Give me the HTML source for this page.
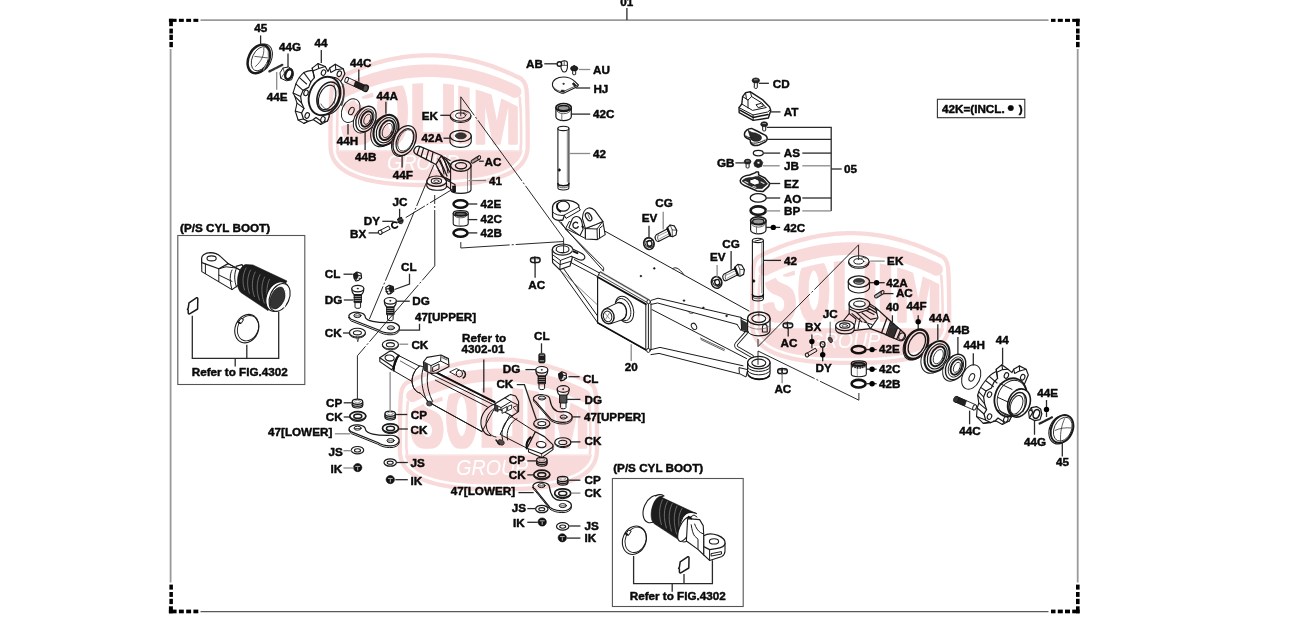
<!DOCTYPE html>
<html lang="en"><head><meta charset="utf-8"><title>Front axle parts diagram</title>
<style>html,body{margin:0;padding:0;background:#fff;}body{width:1297px;height:621px;overflow:hidden;}svg{display:block;}.lb{font-family:"Liberation Sans",Arial,sans-serif;font-weight:bold;font-size:11.7px;fill:#0a0a0a;stroke:#0a0a0a;stroke-width:0.45px;stroke-linejoin:round;}.p{fill:none;stroke:#1a1a1a;stroke-width:1;stroke-linecap:round;stroke-linejoin:round;}.w{fill:#fff;stroke:#1a1a1a;stroke-width:1;stroke-linecap:round;stroke-linejoin:round;}.k{fill:#111;stroke:#111;stroke-width:0.6;stroke-linejoin:round;}.t{fill:none;stroke:#1a1a1a;stroke-width:0.7;stroke-linecap:round;stroke-linejoin:round;}.h{fill:none;stroke:#111;stroke-width:1.8;stroke-linecap:round;stroke-linejoin:round;}</style></head><body>
<svg width="1297" height="621" viewBox="0 0 1297 621">
<rect width="1297" height="621" fill="#fff"/>
<g stroke="#9a9a9a" stroke-width="1.8" fill="none">
<path d="M200.5,20.2H1048.5 M170.6,49V582.5 M1077.7,49V582.5"/>
</g>
<path d="M200.5,611.6H1048.5" stroke="#5a5a5a" stroke-width="1.2" fill="none"/>
<g fill="#000">
<rect x="168.9" y="18.8" width="7.7" height="3.1"/>
<rect x="169.2" y="18.8" width="3.7" height="7.4"/>
<rect x="178.9" y="18.8" width="4.9" height="3.1"/>
<rect x="186.2" y="18.8" width="4.9" height="3.1"/>
<rect x="193.4" y="18.8" width="4.9" height="3.1"/>
<rect x="169.4" y="28.6" width="3.5" height="4.9"/>
<rect x="169.4" y="34.7" width="3.5" height="5.3"/>
<rect x="169.4" y="41.9" width="3.5" height="5.3"/>
<rect x="1072.2" y="18.8" width="7.4" height="3.1"/>
<rect x="1076.0" y="18.8" width="3.6" height="7.4"/>
<rect x="1051.0" y="18.8" width="4.5" height="3.1"/>
<rect x="1057.8" y="18.8" width="5.0" height="3.1"/>
<rect x="1065.0" y="18.8" width="5.0" height="3.1"/>
<rect x="1076.0" y="28.6" width="3.6" height="4.9"/>
<rect x="1076.0" y="34.7" width="3.6" height="5.3"/>
<rect x="1076.0" y="41.9" width="3.6" height="5.3"/>
<rect x="168.9" y="609.6" width="7.7" height="3.7"/>
<rect x="168.9" y="606.3" width="4.0" height="7.0"/>
<rect x="178.9" y="609.6" width="4.9" height="3.7"/>
<rect x="186.2" y="609.6" width="4.9" height="3.7"/>
<rect x="193.4" y="609.6" width="4.9" height="3.7"/>
<rect x="169.4" y="584.6" width="3.5" height="5.0"/>
<rect x="169.4" y="592.0" width="3.5" height="4.9"/>
<rect x="169.4" y="598.8" width="3.5" height="5.3"/>
<rect x="1072.2" y="609.6" width="7.4" height="3.7"/>
<rect x="1076.0" y="606.3" width="3.6" height="7.0"/>
<rect x="1051.0" y="609.6" width="4.5" height="3.7"/>
<rect x="1057.8" y="609.6" width="5.0" height="3.7"/>
<rect x="1065.0" y="609.6" width="5.0" height="3.7"/>
<rect x="1076.0" y="584.6" width="3.6" height="5.0"/>
<rect x="1076.0" y="592.0" width="3.6" height="4.9"/>
<rect x="1076.0" y="598.8" width="3.6" height="5.3"/>
</g>
<g stroke="#555" stroke-width="1.1" fill="none">
<rect x="177.8" y="235.5" width="127" height="149"/>
<rect x="612.4" y="478.5" width="130.8" height="128"/>
<rect x="937.4" y="99.3" width="87.4" height="18.4" stroke="#333"/>
</g>
<!-- p_tileA_tileA.svg -->
<g>
<ellipse cx="261.2" cy="58.2" rx="10.2" ry="15" transform="rotate(25 261.2 58.2)" class="w" style="stroke-width:1;"/>
<ellipse cx="258.8" cy="59" rx="10.2" ry="15" transform="rotate(25 258.8 59)" class="w" style="stroke-width:2.5;"/>
<ellipse cx="260.2" cy="58.8" rx="7.9" ry="12.8" transform="rotate(25 260.2 58.8)" class="p" style="stroke-width:0.8;"/>
<path d="M254.8,56.4 L267.6,57.9 M263.8,48.2 C264.5,55 261,62 255.5,66.4" class="t"/>
<path d="M268.2,51.5 L268.6,59 M267,63 L263.5,70" class="t" style="stroke-width:1.2;stroke:#888;"/>
<path d="M269.4,71.4 L282.6,64.7" class="p" style="stroke-width:2.3;stroke:#333;" stroke-dasharray="1.2 0.7"/>
<path d="M280.2,72.5 L283,68 L288.5,67 L292.3,69.5 L293.5,74.5 L291.6,79.8 L286.4,80.8 L281,78.4 Z" class="w" style="stroke-width:1;"/>
<path d="M283,68 L284.5,73 L281,78.4 M284.5,73 L286.5,72" class="t"/>
<ellipse cx="288.8" cy="74.3" rx="3.3" ry="5.2" transform="rotate(20 288.8 74.3)" class="w" style="stroke-width:2.5;"/>
<g><path d="M312.2,70.4 C308.6,70.6 306,71.4 303.8,72.6 C300,75.6 297.6,79.6 295.9,83.9 L293.1,92.9 L294.8,96.3 L297,103.1 L295.3,111 L298.1,120 L303.8,123.4 L312.2,118.8 L313.9,120 L320.7,124.5 L327.4,121.1 L329.1,116.6 L326,80 Z" class="w" style="stroke-width:1.1;"/>
<path d="M312.2,68.1 L317.9,63.6 L325.2,66.5 L328,71.5 L329.7,68.1 L335.3,64.2 L343.2,68.7 L344.9,73.8 L342.1,79.4 L330,96 L329.1,116.6 L327.4,121.1 L321.6,121.6 L316,117.4 L312.6,120 L308,121.4 L303.4,119 L301.6,113 L304,108.4 L301.6,103 L300.6,96.4 L303,90.4 L308.6,87.4 L311,81.6 L314.4,77.6 Z" class="w" style="stroke-width:1.2;"/>
<path d="M312.2,68.1 L314.4,77.6 M317.9,63.6 L318.8,68.6 L313.4,70.8 M318.8,68.6 L325.2,66.5 M329.7,68.1 L330.8,72.4 L335.8,69.8 L335.3,64.2 M335.8,69.8 L343.2,68.7 M303.8,72.6 L310.8,82 M299.4,77.6 L306.6,84 M295.9,83.9 L303,90.4 M293.1,92.9 L300.6,96.4 M294.8,96.3 L301.6,103 M297,103.1 L304,108.4 M295.3,111 L301.6,113 M298.1,120 L303.4,119 M303.8,123.4 L308,121.4 M320.7,124.5 L321.6,121.6" class="p" style="stroke-width:1.1;"/>
<ellipse cx="323.5" cy="72.6" rx="2.1" ry="2.9" transform="rotate(22 323.5 72.6)" class="w" style="stroke-width:1.1;"/>
<ellipse cx="339.3" cy="73.8" rx="2.1" ry="2.9" transform="rotate(22 339.3 73.8)" class="w" style="stroke-width:1.1;"/>
<ellipse cx="306" cy="92.9" rx="2.1" ry="2.9" transform="rotate(22 306 92.9)" class="w" style="stroke-width:1.1;"/>
<ellipse cx="307.2" cy="115.5" rx="2.1" ry="2.9" transform="rotate(22 307.2 115.5)" class="w" style="stroke-width:1.1;"/>
<ellipse cx="322.9" cy="119.4" rx="2.1" ry="2.9" transform="rotate(22 322.9 119.4)" class="w" style="stroke-width:1.1;"/>
<ellipse cx="328.4" cy="96" rx="14.6" ry="19.6" transform="rotate(22 328.4 96)" class="w" style="stroke-width:1;"/>
<path d="M342.6,84 C344.6,90 344.2,98 341.6,105" class="p" style="stroke-width:1.7;stroke:#444;"/>
<ellipse cx="324.6" cy="96" rx="15.2" ry="19.8" transform="rotate(22 324.6 96)" class="w" style="stroke-width:1.9;"/>
<ellipse cx="328.2" cy="96.6" rx="10.6" ry="15.2" transform="rotate(22 328.2 96.6)" class="w" style="stroke-width:1.5;"/>
<ellipse cx="327.2" cy="97.4" rx="8" ry="12.8" transform="rotate(22 327.2 97.4)" class="w" style="stroke-width:1.1;"/>
<path d="M321,104 C323,108 327,110.6 331,109.4 M334,85 C336,90 336,98 334,104" class="t"/></g>
<path d="M347.3,77.3 L365.8,85.7 L364.2,90.9 L345.8,82.5 Z" class="w" style="stroke-width:0.9;"/>
<path d="M355.5,81.1 L365.8,85.7 L364.2,90.9 L353.8,86.2 Z" class="k" style="fill:#222;"/>
<ellipse cx="346.6" cy="79.9" rx="1.6" ry="2.7" transform="rotate(22 346.6 79.9)" class="w" style="stroke-width:0.9;"/>
<ellipse cx="365.6" cy="88.2" rx="2.6" ry="3.3" transform="rotate(22 365.6 88.2)" class="w" style="stroke-width:1.3;fill:#555;"/>
</g>
<!-- p_tileB_tileB.svg -->
<g>
<ellipse cx="350.7" cy="110.6" rx="8.6" ry="12.4" transform="rotate(25 350.7 110.6)" class="w" style="stroke-width:1;"/>
<ellipse cx="351.4" cy="111" rx="2.4" ry="4" transform="rotate(25 351.4 111)" class="w" style="stroke-width:1;"/>
<ellipse cx="363.4" cy="120.2" rx="9.4" ry="13.4" transform="rotate(25 363.4 120.2)" class="w" style="stroke-width:1;"/>
<ellipse cx="366" cy="119" rx="9.4" ry="13.4" transform="rotate(25 366 119)" class="w" style="stroke-width:1.4;"/>
<ellipse cx="366.3" cy="119" rx="7" ry="10.6" transform="rotate(25 366.3 119)" class="p" style="stroke-width:0.9;"/>
<ellipse cx="366.8" cy="119" rx="5.2" ry="8.2" transform="rotate(25 366.8 119)" class="w" style="stroke-width:1.8;"/>
<ellipse cx="367.3" cy="119.3" rx="3" ry="5.4" transform="rotate(25 367.3 119.3)" class="p" style="stroke-width:0.8;"/>
<ellipse cx="383.2" cy="131.5" rx="11.6" ry="16" transform="rotate(25 383.2 131.5)" class="w" style="stroke-width:1;"/>
<ellipse cx="386" cy="130.2" rx="11.6" ry="16" transform="rotate(25 386 130.2)" class="w" style="stroke-width:2.1;"/>
<ellipse cx="386.3" cy="130.2" rx="9.2" ry="13.2" transform="rotate(25 386.3 130.2)" class="p" style="stroke-width:1.2;"/>
<ellipse cx="386.8" cy="130.2" rx="6.6" ry="10.4" transform="rotate(25 386.8 130.2)" class="w" style="stroke-width:1.9;"/>
<ellipse cx="387.3" cy="130.5" rx="4.4" ry="7.6" transform="rotate(25 387.3 130.5)" class="p" style="stroke-width:0.8;"/>
<ellipse cx="403.2" cy="141.4" rx="10.6" ry="15.8" transform="rotate(25 403.2 141.4)" class="w" style="stroke-width:1;"/>
<ellipse cx="404.6" cy="140.6" rx="10.6" ry="15.8" transform="rotate(25 404.6 140.6)" class="w" style="stroke-width:1.3;"/>
<ellipse cx="405" cy="140.6" rx="8" ry="12.6" transform="rotate(25 405 140.6)" class="w" style="stroke-width:1.2;"/>
<ellipse cx="405.6" cy="140.4" rx="7" ry="11.4" transform="rotate(25 405.6 140.4)" class="p" style="stroke-width:0.7;"/>
<path d="M414.6,148.6 C413.4,150.4 414,152.8 416,154.2 L436,164.5 L441.5,155.5 L420.4,146.6 C418,145.8 415.6,146.6 414.6,148.6 Z" class="w" style="stroke-width:1.3;"/>
<path d="M419.5,147 L417,154.6 M423.5,148.4 L421,157 M428.5,150.6 L426,159.6 M433,152.4 L431,162" class="p" style="stroke-width:1.2;"/>
<path d="M436,164.5 C438,168 440,172 441.5,176 L452,181 L452,166 L441.5,155.5 Z" class="w" style="stroke-width:1.1;"/>
<path d="M438,159 C441,163 443,168 444,174 M441.5,156.5 C445,160 447,166 448,173 M444,157 L450,160.5 M437,167 L443,178" class="p" style="stroke-width:1.1;"/>
<path d="M450.6,165.6 L450.6,190 C452,194.5 469.5,194.5 471,190 L471,165.6" class="w" style="stroke-width:1.1;"/>
<path d="M467.5,171 L467.5,192" class="t" style="stroke:#666;"/>
<ellipse cx="460.8" cy="165.6" rx="10.2" ry="5.6" class="w" style="stroke-width:1.4;"/>
<ellipse cx="461" cy="165.8" rx="5.6" ry="3.1" class="w" style="stroke-width:1.3;"/>
<path d="M456,166.6 a5.4,3 0 0 0 9,1.6" class="t"/>
<path d="M426.8,181.5 L426.8,186 C428,191 444,192 446.5,187 L446.5,182" class="w" style="stroke-width:1.1;"/>
<ellipse cx="436.6" cy="181.2" rx="9.9" ry="5.2" class="w" style="stroke-width:1.2;"/>
<ellipse cx="436.4" cy="181" rx="5.2" ry="2.7" class="w" style="stroke-width:1.1;"/>
<ellipse cx="436.4" cy="181.2" rx="2.6" ry="1.3" class="p" style="stroke-width:0.8;"/>
<path d="M446,180 L455,184.5 L455,191.5 M446.5,186 L452,190 M450.6,181 L446,178" class="p" style="stroke-width:1.1;"/>
<path d="M452.5,186 L455.5,186 L455.5,192 L452.5,192 Z" class="k"/>
<path d="M440,160 L447,176 M443.4,158.6 L449.6,172 M446.6,160 L450.4,168 M438.4,170 L446,180" class="p" style="stroke-width:1.3;"/>
<g><path d="M450.3,115.6 v1.3 a10.3,5.6 0 0 0 20.6,0 v-1.3" class="w" style="stroke-width:1.1;"/>
<ellipse cx="460.6" cy="115.6" rx="10.3" ry="5.6" class="w" style="stroke-width:1.1;"/>
<ellipse cx="460.6" cy="115.6" rx="5" ry="2.7" class="w" style="stroke-width:1;fill:#fff;"/></g>
<path d="M463,112.5 l3,-1 l1.5,1.6 M464.5,113.5 l2,1" class="t"/>
<path d="M450,136 v5.6 a10.6,5.8 0 0 0 21.2,0 v-5.6" class="w" style="stroke-width:1.1;"/>
<ellipse cx="460.6" cy="136" rx="10.6" ry="5.7" class="w" style="stroke-width:1.3;"/>
<ellipse cx="460.8" cy="135.8" rx="5.6" ry="3" class="k" style="fill:#3a3a3a;"/>
<path d="M472.8,161.5 L478.6,157.9" class="p" style="stroke-width:4.4;stroke:#2a2a2a;"/>
<path d="M472.6,161.6 L478.8,157.8" class="p" style="stroke-width:2;stroke:#bbb;" stroke-dasharray="0.8 1.3" stroke-linecap="butt"/>
<ellipse cx="479.2" cy="157.6" rx="1.3" ry="1.9" transform="rotate(30 479.2 157.6)" class="w" style="stroke-width:0.9;"/>
<ellipse cx="400.4" cy="220.6" rx="2.6" ry="3.3" transform="rotate(-20 400.4 220.6)" class="k" style="fill:#444;"/>
<path d="M397.6,219.5 l4,-2 M398,222.5 l5,-2.4" class="p" style="stroke-width:1.2;"/>
<path d="M396.6,222.6 a3,3 0 1 0 0.8,4" class="p" style="stroke-width:1.8;stroke:#111;"/>
<path d="M379.6,230.6 L388.6,226 L390.2,229.2 L381.2,233.8 Z" class="w" style="stroke-width:1;"/>
<ellipse cx="380.2" cy="232.3" rx="1.8" ry="2.1" transform="rotate(-25 380.2 232.3)" class="w" style="stroke-width:1;"/>
<ellipse cx="460.5" cy="204" rx="7" ry="3.7" class="p" style="stroke-width:2.5;stroke:#111;"/>
<g><path d="M453.2,213.4 v10 a7.5,2.7 0 0 0 15,0 v-10" class="w" style="stroke-width:1.1;"/>
<ellipse cx="460.7" cy="213.4" rx="7.5" ry="2.7" class="w" style="stroke-width:1.2;"/>
<ellipse cx="460.7" cy="214" rx="5.7" ry="1.6" class="p" style="stroke-width:1.6;fill:#777;"/>
<path d="M454.7,215.6 a6,2.2 0 0 0 12,0" class="t"/>
<path d="M459.2,217.1L459.2,225.1" class="t" style="stroke:#777;"/></g>
<ellipse cx="460.5" cy="233" rx="7" ry="3.8" class="p" style="stroke-width:2.6;stroke:#111;"/>
</g>
<!-- p_tileC_tileC.svg -->
<g>
<path d="M353.6,274.2 L356.9,272 L361,273.4 L361.6,277.9 L358.6,280.4 L355.9,281 L354.2,278.4 Z" class="w" style="stroke-width:1.2;"/>
<path d="M353.8,274.2 L357,272.2 L358.4,275.9 L356.4,279.8 L354.2,278 Z" class="k" style="fill:#1c1c1c;"/>
<path d="M358.6,275.4 L361.2,276 M359,278.2 L361,278.4" class="p" style="stroke-width:1;"/>
<path d="M355,302.1 v5 a2.8,1.3 0 0 0 5.6,0 v-5 Z" class="w" style="stroke-width:1;"/>
<path d="M354.2,293.6 L354.2,302.6 L361.4,302.6 L361.4,293.6 Z" class="w" style="stroke-width:1;"/>
<path d="M354.4,295.6 h6.8 M354.4,297.6 h6.8 M354.4,299.6 h6.8 M354.4,301.6 h6.8" class="p" style="stroke-width:1.5;stroke:#1a1a1a;"/>
<path d="M351.8,288.6 C351.8,291.6 353.3,294 354.2,294.6 L361.4,294.6 C362.3,294 363.8,291.6 363.8,288.6 Z" class="w" style="stroke-width:1.1;"/>
<ellipse cx="357.8" cy="288.6" rx="6" ry="3.3" class="w" style="stroke-width:1.2;"/>
<ellipse cx="357.8" cy="288.6" rx="0.7" ry="0.5" class="k"/>
<g transform="translate(0,1.7)"><path d="M348.8,315.6 A8.6,5.3 0 0 1 365.4,317.46 C366.6,320.68 375.91,322.86 388.75,322.66 A8.6,5.3 0 0 1 399.5,327.8 A8.6,5.3 0 0 1 390.04,333.1 C385.04,333.1 381.04,331.6 378.04,329.7 L351.21,319.31 A8.6,5.3 0 0 1 348.8,315.6 Z" class="w" style="stroke-width:1;"/></g>
<path d="M348.8,315.6 A8.6,5.3 0 0 1 365.4,317.46 C366.6,320.68 375.91,322.86 388.75,322.66 A8.6,5.3 0 0 1 399.5,327.8 A8.6,5.3 0 0 1 390.04,333.1 C385.04,333.1 381.04,331.6 378.04,329.7 L351.21,319.31 A8.6,5.3 0 0 1 348.8,315.6 Z" class="w" style="stroke-width:1.2;"/>
<ellipse cx="357.4" cy="315.6" rx="3.6" ry="2" class="w" style="stroke-width:1;"/>
<path d="M354.4,315.9 h6" class="t"/>
<ellipse cx="390.9" cy="327.8" rx="3.6" ry="2" class="w" style="stroke-width:1;"/>
<path d="M387.9,328.1 h6" class="t"/>
<path d="M349.4,332.6 v1 a8,4.4 0 0 0 16,0 v-1" class="w" style="stroke-width:1;"/>
<ellipse cx="357.4" cy="332.6" rx="8" ry="4.4" class="w" style="stroke-width:1.1;"/>
<ellipse cx="357.4" cy="332.8" rx="4" ry="2.1" class="w" style="stroke-width:1.1;"/>
<path d="M356.6,337 l1.2,4.8 l1.2,-4.8" class="t"/>
<path d="M385.8,287.4 L389.1,285.2 L393.2,286.6 L393.8,291.1 L390.8,293.6 L388.1,294.2 L386.4,291.6 Z" class="w" style="stroke-width:1.2;"/>
<path d="M393.2,287.4 L390,285.4 L388.6,289.1 L390.6,293 L392.8,291.2 Z" class="k" style="fill:#1c1c1c;"/>
<path d="M388.4,288.6 L385.8,289.2 M388,291.4 L386,291.6" class="p" style="stroke-width:1;"/>
<path d="M387.5,314.3 v5 a2.8,1.3 0 0 0 5.6,0 v-5 Z" class="w" style="stroke-width:1;"/>
<path d="M386.7,305.8 L386.7,314.8 L393.9,314.8 L393.9,305.8 Z" class="w" style="stroke-width:1;"/>
<path d="M386.9,307.8 h6.8 M386.9,309.8 h6.8 M386.9,311.8 h6.8 M386.9,313.8 h6.8" class="p" style="stroke-width:1.5;stroke:#1a1a1a;"/>
<path d="M384.3,300.8 C384.3,303.8 385.8,306.2 386.7,306.8 L393.9,306.8 C394.8,306.2 396.3,303.8 396.3,300.8 Z" class="w" style="stroke-width:1.1;"/>
<ellipse cx="390.3" cy="300.8" rx="6" ry="3.3" class="w" style="stroke-width:1.2;"/>
<ellipse cx="390.3" cy="300.8" rx="0.7" ry="0.5" class="k"/>
<path d="M382.4,344.5 v1 a8,4.4 0 0 0 16,0 v-1" class="w" style="stroke-width:1;"/>
<ellipse cx="390.4" cy="344.5" rx="8" ry="4.4" class="w" style="stroke-width:1.1;"/>
<ellipse cx="390.4" cy="344.7" rx="4" ry="2.1" class="w" style="stroke-width:1.1;"/>
<path d="M352.3,402 v3.6 a5.2,2.4 0 0 0 10.4,0 v-3.6" class="w" style="stroke-width:1.2;"/>
<path d="M352.3,404 a5.2,2.3 0 0 0 10.4,0" class="p" style="stroke-width:1.5;stroke:#222;"/>
<ellipse cx="357.5" cy="401.8" rx="5.2" ry="2.6" class="w" style="stroke-width:1.3;"/>
<ellipse cx="357.5" cy="401.6" rx="3" ry="1.3" class="p" style="stroke-width:0.7;stroke:#777;"/>
<path d="M349.8,416 v1 a8,4.4 0 0 0 16,0 v-1" class="w" style="stroke-width:1;"/>
<ellipse cx="357.8" cy="416" rx="8" ry="4.4" class="w" style="stroke-width:1.7;"/>
<ellipse cx="357.8" cy="416.2" rx="4" ry="2.1" class="w" style="stroke-width:1.6;"/>
<path d="M385,414 v3.6 a5.2,2.4 0 0 0 10.4,0 v-3.6" class="w" style="stroke-width:1.2;"/>
<path d="M385,416 a5.2,2.3 0 0 0 10.4,0" class="p" style="stroke-width:1.5;stroke:#222;"/>
<ellipse cx="390.2" cy="413.8" rx="5.2" ry="2.6" class="w" style="stroke-width:1.3;"/>
<ellipse cx="390.2" cy="413.6" rx="3" ry="1.3" class="p" style="stroke-width:0.7;stroke:#777;"/>
<path d="M382.5,428.2 v1 a8,4.4 0 0 0 16,0 v-1" class="w" style="stroke-width:1;"/>
<ellipse cx="390.5" cy="428.2" rx="8" ry="4.4" class="w" style="stroke-width:1.7;"/>
<ellipse cx="390.5" cy="428.4" rx="4" ry="2.1" class="w" style="stroke-width:1.6;"/>
<g transform="translate(0,1.7)"><path d="M349,428.2 A8.6,5.3 0 0 1 365.6,430.06 C366.8,433.41 375.88,435.66 388.45,435.46 A8.6,5.3 0 0 1 399.2,440.6 A8.6,5.3 0 0 1 389.74,445.9 C384.74,445.9 380.74,444.4 377.74,442.5 L351.41,431.91 A8.6,5.3 0 0 1 349,428.2 Z" class="w" style="stroke-width:1;"/></g>
<path d="M349,428.2 A8.6,5.3 0 0 1 365.6,430.06 C366.8,433.41 375.88,435.66 388.45,435.46 A8.6,5.3 0 0 1 399.2,440.6 A8.6,5.3 0 0 1 389.74,445.9 C384.74,445.9 380.74,444.4 377.74,442.5 L351.41,431.91 A8.6,5.3 0 0 1 349,428.2 Z" class="w" style="stroke-width:1.2;"/>
<ellipse cx="357.6" cy="428.2" rx="3.6" ry="2" class="w" style="stroke-width:1;"/>
<path d="M354.6,428.5 h6" class="t"/>
<ellipse cx="390.6" cy="440.6" rx="3.6" ry="2" class="w" style="stroke-width:1;"/>
<path d="M387.6,440.9 h6" class="t"/>
<ellipse cx="357.5" cy="450.2" rx="6.2" ry="3.7" class="w" style="stroke-width:1.2;"/>
<ellipse cx="357.5" cy="450.4" rx="3" ry="1.6" class="w" style="stroke-width:1.1;"/>
<ellipse cx="357.7" cy="467.6" rx="4.2" ry="4.1" class="k" style="fill:#111;"/>
<path d="M355.7,466.4 h4 M357.7,467.6 v2.4" class="p" style="stroke-width:0.9;stroke:#ccc;"/>
<ellipse cx="390.2" cy="462.5" rx="6.2" ry="3.7" class="w" style="stroke-width:1.2;"/>
<ellipse cx="390.2" cy="462.7" rx="3" ry="1.6" class="w" style="stroke-width:1.1;"/>
<ellipse cx="390.3" cy="479.6" rx="4.2" ry="4.1" class="k" style="fill:#111;"/>
<path d="M388.3,478.4 h4 M390.3,479.6 v2.4" class="p" style="stroke-width:0.9;stroke:#ccc;"/>
<rect x="538.7" y="353.4" width="6.4" height="9.6" rx="1.6" class="k" style="fill:#1c1c1c"/>
<path d="M540.1,355.2 h3.6 M540.1,360.8 h3.6" class="p" style="stroke-width:0.9;stroke:#bbb;"/>
<path d="M539,383.3 v5 a2.8,1.3 0 0 0 5.6,0 v-5 Z" class="w" style="stroke-width:1;"/>
<path d="M538.2,374.8 L538.2,383.8 L545.4,383.8 L545.4,374.8 Z" class="w" style="stroke-width:1;"/>
<path d="M538.4,376.8 h6.8 M538.4,378.8 h6.8 M538.4,380.8 h6.8 M538.4,382.8 h6.8" class="p" style="stroke-width:1.5;stroke:#1a1a1a;"/>
<path d="M535.8,369.8 C535.8,372.8 537.3,375.2 538.2,375.8 L545.4,375.8 C546.3,375.2 547.8,372.8 547.8,369.8 Z" class="w" style="stroke-width:1.1;"/>
<ellipse cx="541.8" cy="369.8" rx="6" ry="3.3" class="w" style="stroke-width:1.2;"/>
<ellipse cx="541.8" cy="369.8" rx="0.7" ry="0.5" class="k"/>
<path d="M558.6,374 L561.9,371.8 L566,373.2 L566.6,377.7 L563.6,380.2 L560.9,380.8 L559.2,378.2 Z" class="w" style="stroke-width:1.2;"/>
<path d="M558.8,374 L562,372 L563.4,375.7 L561.4,379.6 L559.2,377.8 Z" class="k" style="fill:#1c1c1c;"/>
<path d="M563.6,375.2 L566.2,375.8 M564,378 L566,378.2" class="p" style="stroke-width:1;"/>
<path d="M560.4,402.5 v5 a2.8,1.3 0 0 0 5.6,0 v-5 Z" class="w" style="stroke-width:1;"/>
<path d="M559.6,394 L559.6,403 L566.8,403 L566.8,394 Z" class="w" style="stroke-width:1;"/>
<path d="M559.8,396 h6.8 M559.8,398 h6.8 M559.8,400 h6.8 M559.8,402 h6.8" class="p" style="stroke-width:1.5;stroke:#1a1a1a;"/>
<path d="M557.2,389 C557.2,392 558.7,394.4 559.6,395 L566.8,395 C567.7,394.4 569.2,392 569.2,389 Z" class="w" style="stroke-width:1.1;"/>
<ellipse cx="563.2" cy="389" rx="6" ry="3.3" class="w" style="stroke-width:1.2;"/>
<ellipse cx="563.2" cy="389" rx="0.7" ry="0.5" class="k"/>
<g transform="translate(0,1.7)"><path d="M533.4,398 A8.6,5.3 0 0 1 550,399.86 C551.2,407.3 555.15,412.06 561.45,411.86 A8.6,5.3 0 0 1 572.2,417 A8.6,5.3 0 0 1 562.74,422.3 C557.74,422.3 553.74,420.8 550.74,418.9 L535.81,401.71 A8.6,5.3 0 0 1 533.4,398 Z" class="w" style="stroke-width:1;"/></g>
<path d="M533.4,398 A8.6,5.3 0 0 1 550,399.86 C551.2,407.3 555.15,412.06 561.45,411.86 A8.6,5.3 0 0 1 572.2,417 A8.6,5.3 0 0 1 562.74,422.3 C557.74,422.3 553.74,420.8 550.74,418.9 L535.81,401.71 A8.6,5.3 0 0 1 533.4,398 Z" class="w" style="stroke-width:1.2;"/>
<ellipse cx="542" cy="398" rx="3.6" ry="2" class="w" style="stroke-width:1;"/>
<path d="M539,398.3 h6" class="t"/>
<ellipse cx="563.6" cy="417" rx="3.6" ry="2" class="w" style="stroke-width:1;"/>
<path d="M560.6,417.3 h6" class="t"/>
<path d="M533.8,423.4 v1 a8,4.4 0 0 0 16,0 v-1" class="w" style="stroke-width:1;"/>
<ellipse cx="541.8" cy="423.4" rx="8" ry="4.4" class="w" style="stroke-width:1.1;"/>
<ellipse cx="541.8" cy="423.6" rx="4" ry="2.1" class="w" style="stroke-width:1.1;"/>
<path d="M554.8,442.2 v1 a8,4.4 0 0 0 16,0 v-1" class="w" style="stroke-width:1;"/>
<ellipse cx="562.8" cy="442.2" rx="8" ry="4.4" class="w" style="stroke-width:1.1;"/>
<ellipse cx="562.8" cy="442.4" rx="4" ry="2.1" class="w" style="stroke-width:1.1;"/>
<path d="M536.6,460.2 v3.6 a5.2,2.4 0 0 0 10.4,0 v-3.6" class="w" style="stroke-width:1.2;"/>
<path d="M536.6,462.2 a5.2,2.3 0 0 0 10.4,0" class="p" style="stroke-width:1.5;stroke:#222;"/>
<ellipse cx="541.8" cy="460" rx="5.2" ry="2.6" class="w" style="stroke-width:1.3;"/>
<ellipse cx="541.8" cy="459.8" rx="3" ry="1.3" class="p" style="stroke-width:0.7;stroke:#777;"/>
<path d="M533.8,474.5 v1 a8,4.4 0 0 0 16,0 v-1" class="w" style="stroke-width:1;"/>
<ellipse cx="541.8" cy="474.5" rx="8" ry="4.4" class="w" style="stroke-width:1.7;"/>
<ellipse cx="541.8" cy="474.7" rx="4" ry="2.1" class="w" style="stroke-width:1.6;"/>
<path d="M557.5,479.2 v3.6 a5.2,2.4 0 0 0 10.4,0 v-3.6" class="w" style="stroke-width:1.2;"/>
<path d="M557.5,481.2 a5.2,2.3 0 0 0 10.4,0" class="p" style="stroke-width:1.5;stroke:#222;"/>
<ellipse cx="562.7" cy="479" rx="5.2" ry="2.6" class="w" style="stroke-width:1.3;"/>
<ellipse cx="562.7" cy="478.8" rx="3" ry="1.3" class="p" style="stroke-width:0.7;stroke:#777;"/>
<path d="M554.7,493.2 v1 a8,4.4 0 0 0 16,0 v-1" class="w" style="stroke-width:1;"/>
<ellipse cx="562.7" cy="493.2" rx="8" ry="4.4" class="w" style="stroke-width:1.7;"/>
<ellipse cx="562.7" cy="493.4" rx="4" ry="2.1" class="w" style="stroke-width:1.6;"/>
<g transform="translate(0,1.7)"><path d="M532.9,485.6 A8.6,5.3 0 0 1 549.5,487.46 C550.7,495.52 554.52,500.66 560.65,500.46 A8.6,5.3 0 0 1 571.4,505.6 A8.6,5.3 0 0 1 561.94,510.9 C556.94,510.9 552.94,509.4 549.94,507.5 L535.31,489.31 A8.6,5.3 0 0 1 532.9,485.6 Z" class="w" style="stroke-width:1;"/></g>
<path d="M532.9,485.6 A8.6,5.3 0 0 1 549.5,487.46 C550.7,495.52 554.52,500.66 560.65,500.46 A8.6,5.3 0 0 1 571.4,505.6 A8.6,5.3 0 0 1 561.94,510.9 C556.94,510.9 552.94,509.4 549.94,507.5 L535.31,489.31 A8.6,5.3 0 0 1 532.9,485.6 Z" class="w" style="stroke-width:1.2;"/>
<ellipse cx="541.5" cy="485.6" rx="3.6" ry="2" class="w" style="stroke-width:1;"/>
<path d="M538.5,485.9 h6" class="t"/>
<ellipse cx="562.8" cy="505.6" rx="3.6" ry="2" class="w" style="stroke-width:1;"/>
<path d="M559.8,505.9 h6" class="t"/>
<ellipse cx="541.8" cy="509" rx="6.2" ry="3.7" class="w" style="stroke-width:1.2;"/>
<ellipse cx="541.8" cy="509.2" rx="3" ry="1.6" class="w" style="stroke-width:1.1;"/>
<ellipse cx="542.2" cy="522" rx="4.2" ry="4.1" class="k" style="fill:#111;"/>
<path d="M540.2,520.8 h4 M542.2,522 v2.4" class="p" style="stroke-width:0.9;stroke:#ccc;"/>
<ellipse cx="562.7" cy="526.4" rx="6.2" ry="3.7" class="w" style="stroke-width:1.2;"/>
<ellipse cx="562.7" cy="526.6" rx="3" ry="1.6" class="w" style="stroke-width:1.1;"/>
<ellipse cx="562.3" cy="537.8" rx="4.2" ry="4.1" class="k" style="fill:#111;"/>
<path d="M560.3,536.6 h4 M562.3,537.8 v2.4" class="p" style="stroke-width:0.9;stroke:#ccc;"/>
</g>
<!-- p_tileD_tileD.svg -->
<g>
<path d="M379.8,357.8 L379.8,361.6 L391.6,369.8 L393.4,367" class="w" style="stroke-width:1.1;"/>
<path d="M379.8,357.8 L388.4,351.9 C390.2,350.9 392.2,351 394,352.2 L398.8,355.6 L393.4,367 Z" class="w" style="stroke-width:1.2;"/>
<ellipse cx="389.6" cy="358" rx="4.6" ry="3" transform="rotate(10 389.6 358)" class="w" style="stroke-width:1.1;"/>
<path d="M386,359.4 a4.4,2.8 0 0 0 7.6,0.4" class="t"/>
<path d="M398.8,355.6 L420,366.4 L413,382 L393.4,370.6 Z" class="w" style="stroke-width:1;"/>
<path d="M398.8,355.6 C396,358 394,363 393.6,370.4" class="p" style="stroke-width:2.2;stroke:#111;"/>
<path d="M400.4,361 L417.4,370.6" class="t"/>
<path d="M419.6,366 C414,370 411,378 412.4,384 C413.4,389 416,392 420.6,393.4 L430,403 L482,431.6 L497,404 L434,370.6 Z" class="w" style="stroke-width:1;"/>
<path d="M419.6,366 C414,370 411,378 412.4,384 C413.4,389 416,392 420.6,393.4" class="p" style="stroke-width:1;"/>
<path d="M425.6,362.4 C420.5,370 419.5,388 428.4,403.6 M430.8,364.6 C426,372 425.4,388 432.6,401.4" class="p" style="stroke-width:1;"/>
<ellipse cx="429.4" cy="403.6" rx="2.9" ry="2.5" class="k" style="fill:#555;"/>
<path d="M434.2,371.6 L494.6,401.8" class="p" style="stroke-width:1.9;stroke:#111;"/>
<path d="M431.6,374.4 L493.2,404.6 M435.4,380.2 L487.4,406.8 M430.4,403 L482,431.6" class="p" style="stroke-width:1;"/>
<path d="M423.4,362 L427,357.4 L441,355 L448.4,358.4 L449,366.6 L437,372.8 L431,373.6 L424,370 Z" class="w" style="stroke-width:1.1;"/>
<path d="M424,362 L431,365.6 L431,373.4 M431,365.6 L440.6,361 L441,355.4 M440.6,361 L448.6,365" class="p" style="stroke-width:1;"/>
<path d="M424.4,363 L427.6,364.6 L427.6,371 L424.6,369.6 Z" class="k" style="fill:#333;"/>
<path d="M433,367 L439,364 L439,369 L433,371.6 Z" class="w" style="stroke-width:1;"/>
<path d="M442,357.6 l5,2.4 M443,356.6 l5,2.4" class="t"/>
<path d="M450,371.8 L456.4,368.6 L462,371.4 L456,375 Z" class="w" style="stroke-width:0.9;"/>
<ellipse cx="459.4" cy="373.6" rx="3.2" ry="3.4" class="w" style="stroke-width:1;"/>
<path d="M463.2,370.6 a3.6,4 0 0 1 0,7.4" class="p" style="stroke-width:1.5;"/>
<path d="M494,404.2 C484,408 479,418 481.6,427 C483,432 486,435 491,435.8" class="p" style="stroke-width:1.1;"/>
<path d="M498.4,406 C489,410 484.4,419 486.6,428 C488,433 491,436 496,437" class="p" style="stroke-width:1;"/>
<path d="M510,415.6 L535.4,431.8 L527,448.2 L500.4,434.6 Z" class="w" style="stroke-width:1;"/>
<path d="M512.4,416.4 C504.6,420 500,430 502.6,439.6 M517,418.6 C510,422 505.6,431 507.6,440" class="p" style="stroke-width:1;"/>
<ellipse cx="500.8" cy="442.4" rx="3.6" ry="2.6" transform="rotate(20 500.8 442.4)" class="k" style="fill:#555;"/>
<path d="M496,440 l3.4,4.4" class="p" style="stroke-width:1.4;"/>
<path d="M494.6,404 L510.6,394.4 L515.6,396 L518.6,401.4 L518.6,411.6 L512,416 L500,409.6 L495,410.6 Z" class="w" style="stroke-width:1.1;"/>
<path d="M495,404.4 L501,407.6 L501,410 M501,407.6 L511,401.6 M511,401.6 L518,405 M505,398 l6,3.4" class="p" style="stroke-width:1;"/>
<path d="M495.2,405 L498,406.4 L498,412 L495.4,410.6 Z" class="k" style="fill:#444;"/>
<path d="M502.4,409 l4.4,-2.4 l0,4.6 l-4.4,2 Z M508,406.4 l3.6,-1.6 l0,4 l-3.6,1.8 Z" class="w" style="stroke-width:0.9;"/>
<path d="M513.4,407.4 l4,4.6 l0,-6 Z" class="w" style="stroke-width:0.8;"/>
<path d="M530.6,437.4 C527.6,440 526,444 526.8,448.4" class="p" style="stroke-width:2.2;stroke:#111;"/>
<path d="M534.4,435 C531,438 529.6,443 530.4,448 " class="p" style="stroke-width:1;"/>
<path d="M528.4,449.6 L528.6,452 L541.8,457.6 L553,449.6 L552.8,446.4" class="w" style="stroke-width:1.1;"/>
<path d="M541.6,453.6 v4" class="t"/>
<path d="M535.4,431.8 L544.4,436.6 L552.8,444.6 C553.4,446 553,447.2 551.6,448 L541.6,453.8 L527,448.2 Z" class="w" style="stroke-width:1.2;"/>
<ellipse cx="541.2" cy="444.6" rx="4.8" ry="3.1" transform="rotate(8 541.2 444.6)" class="w" style="stroke-width:1.1;"/>
<path d="M537.6,446.2 a4.6,2.8 0 0 0 7.6,0.2" class="t"/>
</g>
<!-- p_tileE_tileE.svg -->
<g>
<path d="M604.6,231 L749,311" class="p" style="stroke-width:1;"/>
<path d="M673,268.6 C674.6,266.6 679,267.6 683.6,274.4" class="p" style="stroke-width:1;"/>
<ellipse cx="654.3" cy="268.4" rx="0.9" ry="0.8" class="k"/>
<ellipse cx="640.9" cy="276.1" rx="0.9" ry="0.8" class="k"/>
<ellipse cx="703.4" cy="307.8" rx="0.9" ry="0.8" class="k"/>
<ellipse cx="726.6" cy="315.9" rx="0.9" ry="0.8" class="k"/>
<ellipse cx="684" cy="300.6" rx="0.9" ry="0.8" class="k"/>
<path d="M558.2,220.4 L601.6,268.8 L603.4,271 M566,229.6 L602.8,266.6 C604,268 604,269.6 603.2,270.6" class="p" style="stroke-width:1;"/>
<path d="M561,222 L566,229.6" class="p" style="stroke-width:1;"/>
<path d="M571,262.6 L598,276.8 M574.4,259.6 L599.6,273" class="p" style="stroke-width:1;"/>
<path d="M559.8,269.6 L597.6,322.6 M563.4,268.4 L597.6,316" class="p" style="stroke-width:1;"/>
<path d="M553,263.4 L597.6,305" class="t" style="stroke:#555;"/>
<path d="M552.5,208 C552.3,203 557,200.2 563.4,200.2 C570.4,200.2 576.4,202.2 578.8,205.2 L578.8,207.4 L564.4,215.4 L562.8,220 C558,220.8 554,219.4 552.6,217 Z" class="w" style="stroke-width:1.3;"/>
<path d="M564.4,215.4 L566,218.4 L580.4,210 L578.8,207.4" class="w" style="stroke-width:1;"/>
<ellipse cx="563.2" cy="206.2" rx="6.3" ry="5" class="w" style="stroke-width:1.2;"/>
<path d="M557.4,204 C556.4,207 557.6,210 560.4,211.6" class="p" style="stroke-width:1.8;stroke:#111;"/>
<path d="M552.6,212 C555,214.6 559,215.8 564.4,215.4" class="p" style="stroke-width:1;"/>
<path d="M566,228.6 L585.4,238.4 L585.4,228.6 L569.6,221.6 Z" class="w" style="stroke-width:1;"/>
<path d="M585.4,228.6 L585.4,239 L597.4,239.6 L605.2,234.6 L602.8,221.4 L596,224 Z" class="w" style="stroke-width:1.1;"/>
<path d="M597.4,239.6 L597,229 L602.8,221.4 M597,229 L585.4,228.6 M599.6,237.8 L599.4,228.4 L602.4,226" class="p" style="stroke-width:1;"/>
<path d="M582.4,218.4 C582.6,213 585,208.6 588.6,208 C591,207.6 593,208.6 595,210.6 L602.8,221.4 L596,224.4 L585.4,228.6 Z" class="w" style="stroke-width:1.1;"/>
<ellipse cx="588.6" cy="216.8" rx="2.6" ry="4.3" transform="rotate(-32 588.6 216.8)" class="w" style="stroke-width:1.3;"/>
<path d="M588,214.6 l1.6,4" class="t"/>
<path d="M568.9,227.6 L572.2,219.2 C573.4,216.6 576.6,215.8 579,217.2 C581,218.6 582,221 582.2,223.4 L583,229.4 L580,235.6 Z" class="w" style="stroke-width:1.1;"/>
<path d="M577.6,223 a2.8,3 0 1 0 0.6,3.6" class="p" style="stroke-width:1.3;"/>
<ellipse cx="582.6" cy="226.6" rx="0.9" ry="0.9" class="k"/>
<path d="M552.2,249.6 L552.6,262.6 L559.6,269.6 L570,266 L573,255 L572.6,249.6" class="w" style="stroke-width:1.2;"/>
<path d="M552.4,254.6 L560.4,260.4 L572,256 M552.6,258.8 L560,264.6 L570.6,261.4 M560.4,260.4 L559.8,269.4" class="p" style="stroke-width:1;"/>
<ellipse cx="562.6" cy="249.6" rx="10.2" ry="5.6" class="w" style="stroke-width:1.2;"/>
<ellipse cx="562.6" cy="249.2" rx="6.4" ry="3.4" class="w" style="stroke-width:1.1;"/>
<path d="M556,250.4 C558,253.6 566,254 569,251" class="t"/>
<path d="M572.6,249 L580,252.4 C584.4,254.4 585.6,256.6 584.4,258.6 C583.4,260.2 581,260.4 578.6,259.4 L571.6,256.4" class="w" style="stroke-width:1.1;"/>
<path d="M573.4,251.4 L577.4,253.2" class="p" style="stroke-width:2;stroke:#111;"/>
<path d="M600.4,272 L648.6,299.8 L651,303.6 L651,349.6 L646,350.2 L597.6,322.8 L597.6,277 Z" class="w" style="stroke-width:1;"/>
<path d="M601,272.4 L648.4,299.6" class="p" style="stroke-width:2.2;stroke:#bbb;" stroke-dasharray="0.8 0.9"/>
<path d="M600.4,272 L648.6,299.8 M598.6,274.6 L646.4,302" class="p" style="stroke-width:0.8;"/>
<path d="M597.6,277 L645.8,304.2" class="p" style="stroke-width:1.9;stroke:#111;"/>
<path d="M597.6,322.8 L645.8,349.8" class="p" style="stroke-width:1.6;stroke:#111;"/>
<path d="M597.6,277 L597.6,322.8 M645.8,304.2 L645.8,349.8 M648.4,303.6 L648.4,349" class="p" style="stroke-width:1;"/>
<ellipse cx="648.6" cy="301.8" rx="1.8" ry="2" class="w" style="stroke-width:1;"/>
<ellipse cx="648.4" cy="350.4" rx="1.8" ry="2" class="w" style="stroke-width:1;"/>
<ellipse cx="624.4" cy="309.4" rx="8.8" ry="13.6" transform="rotate(-18 624.4 309.4)" class="w" style="stroke-width:1;"/>
<ellipse cx="623" cy="309.6" rx="7.4" ry="11.4" transform="rotate(-18 623 309.6)" class="p" style="stroke-width:1;" stroke-dasharray="1.6 1"/>
<path d="M604.6,309 L618,302.6 C622,302 625.6,305 626.4,310 C627,314.6 625.6,318 622.6,319.6 L610.6,323.8 Z" class="w" style="stroke-width:1;"/>
<path d="M618,302.6 C622,302 625.6,305 626.4,310 C627,314.6 625.6,318 622.6,319.6" class="p" style="stroke-width:1.3;"/>
<ellipse cx="607.8" cy="316.2" rx="6.2" ry="7.6" transform="rotate(-15 607.8 316.2)" class="w" style="stroke-width:1.4;"/>
<ellipse cx="607.6" cy="316.4" rx="4.2" ry="5.4" transform="rotate(-15 607.6 316.4)" class="w" style="stroke-width:1;"/>
<path d="M605.4,313.6 l4,5 M609.4,313 l-3.6,6" class="t" style="stroke:#666;"/>
<path d="M651,300.4 L658,298.2 L741,317.4 M651,304.4 L657.6,303 L737,324.4" class="p" style="stroke-width:1;"/>
<path d="M688,311.2 c1.4,2.6 4,3.2 5.6,1.4" class="t"/>
<path d="M652,309.6 L746.6,358.6" class="p" style="stroke-width:1;"/>
<ellipse cx="694" cy="326.4" rx="2.4" ry="3.4" transform="rotate(-30 694 326.4)" class="w" style="stroke-width:1;"/>
<path d="M700.4,338 L724.6,349.4 M701,339.6 L724,350.6" class="t"/>
<path d="M651,349.6 L660,347.4 L743,365.8 M651,354.6 L659,353.4 L739,373.8" class="p" style="stroke-width:1;"/>
<path d="M737,324.4 L741,330.6 M741,317.4 L745,321" class="p" style="stroke-width:1;"/>
<path d="M741,318.6 L741.6,330.4 L747.4,332.6 L747.4,321 Z" class="w" style="stroke-width:1;"/>
<path d="M741.4,320 L746.8,323 L746.8,331.6 L741.8,329.6 Z" class="k" style="fill:#333;"/>
<path d="M747.6,318.4 L747.6,330.6 C749,337.4 768.6,337.6 770,330.6 L770,318.4" class="w" style="stroke-width:1.2;"/>
<ellipse cx="758.8" cy="318.4" rx="11.2" ry="6.4" class="w" style="stroke-width:1.3;"/>
<ellipse cx="758.8" cy="318.6" rx="7" ry="3.8" class="w" style="stroke-width:1.1;"/>
<path d="M752.4,320 C754,323.4 763,323.8 765.4,320.4 M758.8,313 v3" class="t"/>
<path d="M762.4,327.4 a2.4,3 0 0 1 4.8,0 v4.6 h-4.8 Z" class="w" style="stroke-width:1.1;"/>
<path d="M748,326 C752,330 764,330.4 770,326" class="t" style="stroke:#666;"/>
<path d="M746,333 L736.6,343.6 C735.4,345.2 735.8,346.8 737.6,348 L752,356.2" class="p" style="stroke-width:3.6;stroke:#1a1a1a;"/>
<path d="M746,333 L736.6,343.6 C735.4,345.2 735.8,346.8 737.6,348 L752,356.2" class="p" style="stroke-width:1.8;stroke:#fff;"/>
<path d="M739,368 L739.4,373.6 L746,377 L747.6,370 Z" class="w" style="stroke-width:1;"/>
<path d="M747.6,362.6 L747.6,373.6 C749,380.6 768.6,381 770,373.6 L770,362.6" class="w" style="stroke-width:1.2;"/>
<path d="M747.8,367.6 C751,372.6 766,373 770,367.6 M747.8,371 C751,376 766,376.4 770,371" class="p" style="stroke-width:1;"/>
<path d="M748.4,375.4 C752,380.4 765,380.8 769.4,376" class="p" style="stroke-width:1.6;stroke:#111;"/>
<ellipse cx="758.8" cy="362.6" rx="11.2" ry="6.2" class="w" style="stroke-width:1.3;"/>
<ellipse cx="758.8" cy="362.8" rx="7" ry="3.7" class="w" style="stroke-width:1.1;"/>
<path d="M752.4,364.4 C754,367.6 763,368 765.4,364.6" class="t"/>
</g>
<!-- p_tileF_tileF.svg -->
<g>
<g><path d="M848.6,261.4 v1.3 a10.2,5.6 0 0 0 20.4,0 v-1.3" class="w" style="stroke-width:1.1;"/>
<ellipse cx="858.8" cy="261.4" rx="10.2" ry="5.6" class="w" style="stroke-width:1.1;"/>
<ellipse cx="858.8" cy="261.4" rx="5" ry="2.7" class="w" style="stroke-width:1;fill:#fff;"/></g>
<path d="M861,258.4 l3,-1 l1.5,1.6" class="t"/>
<path d="M848.3,281.6 v5.6 a10.6,5.8 0 0 0 21.2,0 v-5.6" class="w" style="stroke-width:1.1;"/>
<ellipse cx="858.9" cy="281.6" rx="10.6" ry="5.7" class="w" style="stroke-width:1.3;"/>
<ellipse cx="859" cy="281.4" rx="5.6" ry="3" class="k" style="fill:#3a3a3a;"/>
<path d="M855.4,282.4 a4,1.6 0 0 0 7,0" class="p" style="stroke-width:0.8;stroke:#ccc;"/>
<path d="M876.2,296.3 L882,292.7" class="p" style="stroke-width:4.4;stroke:#2a2a2a;"/>
<path d="M876,296.4 L882.2,292.6" class="p" style="stroke-width:2;stroke:#bbb;" stroke-dasharray="0.8 1.3" stroke-linecap="butt"/>
<ellipse cx="882.6" cy="292.4" rx="1.3" ry="1.9" transform="rotate(30 882.6 292.4)" class="w" style="stroke-width:0.9;"/>
<path d="M875.4,307.4 L887,318 L904.4,333.2 C906,335 905.6,337.6 904,339.4 C902.6,341 900.4,341 898.6,340.2 L883,333.4 L870.4,328.6 Z" class="w" style="stroke-width:1.2;"/>
<path d="M887,318 L881.6,332.8 M890.6,321.4 L886,335 M894,324.4 L889.6,336.6 M897.6,327.6 L893.4,338 M900.6,330 L896.6,339.4" class="p" style="stroke-width:1.3;"/>
<path d="M891,322 L887,335.6 L893,338 L897,327.6 Z" class="k" style="fill:#333;"/>
<ellipse cx="901.6" cy="336.4" rx="2.6" ry="3.6" transform="rotate(25 901.6 336.4)" class="w" style="stroke-width:1;"/>
<path d="M849.2,304 L849.2,313.6 L843,321 L853,330.6 L870.4,328.6 L878,318 L875.4,307.4 L869.8,304 Z" class="w" style="stroke-width:1.1;"/>
<path d="M849.4,309 L858,313 L869.6,309.4 M852,313.6 L862,322 M856.6,312.6 L866,321.6 L870,328 M862,313 L870.6,319.4 L877,318 M849.2,313.6 L856,319 L854,328 M866,310.6 L874,314.6 M860,318 L858,329 M864,322 L872,324.6" class="p" style="stroke-width:1.1;"/>
<path d="M868,308 L876.6,313 M869.6,306 L877,310.4" class="p" style="stroke-width:1.4;"/>
<ellipse cx="859.4" cy="304" rx="10.4" ry="5.6" class="w" style="stroke-width:1.3;"/>
<ellipse cx="859.4" cy="304" rx="5.8" ry="3" class="w" style="stroke-width:1.1;"/>
<path d="M855,305.2 a5.4,2.8 0 0 0 8.8,0.4" class="t"/>
<path d="M835.6,325.8 L835.8,330 C837.6,335 852.6,335.4 854.2,330 L854.2,326" class="w" style="stroke-width:1.1;"/>
<ellipse cx="844.9" cy="325.7" rx="9.3" ry="5" class="w" style="stroke-width:1.2;"/>
<ellipse cx="844.8" cy="325.6" rx="5.2" ry="2.7" class="w" style="stroke-width:1.1;"/>
<ellipse cx="844.8" cy="325.8" rx="2.8" ry="1.3" class="p" style="stroke-width:0.8;"/>
<ellipse cx="830.4" cy="339.8" rx="1.9" ry="3" transform="rotate(-25 830.4 339.8)" class="k" style="fill:#555;"/>
<path d="M806.2,353.6 L815.4,348.2 L817,351 L807.8,356.4 Z" class="w" style="stroke-width:1;"/>
<ellipse cx="807" cy="355" rx="1.7" ry="2" transform="rotate(-25 807 355)" class="w" style="stroke-width:1;"/>
<ellipse cx="822.6" cy="344.4" rx="2.4" ry="2.8" class="w" style="stroke-width:1.3;"/>
<path d="M821.6,343.6 l2,1.4" class="t"/>
<ellipse cx="858.6" cy="349.6" rx="7" ry="3.7" class="p" style="stroke-width:2.5;stroke:#111;"/>
<g><path d="M851.3,363.6 v10.4 a7.5,2.7 0 0 0 15,0 v-10.4" class="w" style="stroke-width:1.1;"/>
<ellipse cx="858.8" cy="363.6" rx="7.5" ry="2.7" class="w" style="stroke-width:1.2;"/>
<ellipse cx="858.8" cy="364.2" rx="5.7" ry="1.6" class="p" style="stroke-width:1.6;fill:#777;"/>
<path d="M852.8,365.8 a6,2.2 0 0 0 12,0" class="t"/>
<path d="M857.3,367.3L857.3,375.7" class="t" style="stroke:#777;"/></g>
<path d="M852.6,364 v3 M855,364.8 v3 M857.6,365.2 v3 M860.2,365.2 v3 M862.8,364.8 v3 M865,364 v3" class="p" style="stroke-width:1.1;"/>
<ellipse cx="858.6" cy="383.7" rx="7" ry="3.8" class="p" style="stroke-width:2.6;stroke:#111;"/>
<ellipse cx="915.2" cy="345" rx="10.8" ry="16" transform="rotate(27 915.2 345)" class="w" style="stroke-width:1;"/>
<ellipse cx="916.4" cy="344.2" rx="10.6" ry="15.6" transform="rotate(27 916.4 344.2)" class="w" style="stroke-width:2.4;"/>
<ellipse cx="916.8" cy="344.2" rx="7.6" ry="12.2" transform="rotate(27 916.8 344.2)" class="w" style="stroke-width:1.3;"/>
<ellipse cx="933.4" cy="358" rx="11.6" ry="16" transform="rotate(25 933.4 358)" class="w" style="stroke-width:1;"/>
<ellipse cx="937" cy="356.4" rx="11.6" ry="16" transform="rotate(25 937 356.4)" class="w" style="stroke-width:2.1;"/>
<ellipse cx="937.3" cy="356.4" rx="9.2" ry="13.2" transform="rotate(25 937.3 356.4)" class="p" style="stroke-width:1.2;"/>
<ellipse cx="937.8" cy="356.4" rx="6.6" ry="10.4" transform="rotate(25 937.8 356.4)" class="w" style="stroke-width:1.9;"/>
<ellipse cx="938.3" cy="356.7" rx="4.4" ry="7.6" transform="rotate(25 938.3 356.7)" class="p" style="stroke-width:0.8;"/>
<ellipse cx="952.8" cy="368.4" rx="9.4" ry="13.4" transform="rotate(25 952.8 368.4)" class="w" style="stroke-width:1;"/>
<ellipse cx="955.6" cy="367" rx="9.4" ry="13.4" transform="rotate(25 955.6 367)" class="w" style="stroke-width:1.4;"/>
<ellipse cx="955.9" cy="367" rx="7" ry="10.6" transform="rotate(25 955.9 367)" class="p" style="stroke-width:0.9;"/>
<ellipse cx="956.4" cy="367" rx="5.2" ry="8.2" transform="rotate(25 956.4 367)" class="w" style="stroke-width:1.8;"/>
<ellipse cx="956.9" cy="367.3" rx="3" ry="5.4" transform="rotate(25 956.9 367.3)" class="p" style="stroke-width:0.8;"/>
<ellipse cx="971.2" cy="377" rx="8.8" ry="12.8" transform="rotate(25 971.2 377)" class="w" style="stroke-width:1;"/>
<ellipse cx="971.8" cy="377.4" rx="2.5" ry="4" transform="rotate(25 971.8 377.4)" class="w" style="stroke-width:1;"/>
<g><path d="M996.2,371.5 C991,374 987.6,377.4 985.5,380.5 C982,385 979.6,388.6 978.8,391.8 L977.6,395.2 L978.8,403.1 L977.2,408 L976.5,416.6 L983.3,423.4 L993.4,421.1 L996.2,421.1 L1002.4,424.5 L1009.2,421.1 L1011.4,416.6 L1010,380 Z" class="w" style="stroke-width:1.1;"/>
<path d="M996.2,369.3 L1001.9,364.8 L1008,369.3 L1012,372.6 L1013.7,369.3 L1019.3,365.9 L1026.1,369.3 L1028.3,374.9 L1025,382.8 L1012,400 L1011.4,416.6 L1009.2,421.1 L1004,422 L998,418 L995,421 L990.6,422.6 L985.6,420 L984,414 L986.6,409.6 L984.6,404 L983.6,397 L986,391 L991.4,388 L994,382 L997.6,378.4 Z" class="w" style="stroke-width:1.2;"/>
<path d="M996.2,369.3 L997.6,378.4 M1001.9,364.8 L1002.6,369.6 L997.4,372 M1002.6,369.6 L1008,369.3 M1013.7,369.3 L1014.6,373.4 L1019.6,371 L1019.3,365.9 M1019.6,371 L1026.1,369.3 M985.5,380.5 L993.4,386.6 M989.6,376.6 L997,383 M981,387.6 L986,391 M978.8,391.8 L983.6,397 M977.6,395.2 L984.6,404 M978.8,403.1 L986.6,409.6 M977.2,408 L984,414 M976.5,416.6 L985.6,420 M983.3,423.4 L990.6,422.6 M1002.4,424.5 L1004,422 M993.4,421.1 L995,421" class="p" style="stroke-width:1.1;"/>
<ellipse cx="1006.4" cy="375.5" rx="2.1" ry="2.9" transform="rotate(22 1006.4 375.5)" class="w" style="stroke-width:1.1;"/>
<ellipse cx="1022.7" cy="377.2" rx="2.1" ry="2.9" transform="rotate(22 1022.7 377.2)" class="w" style="stroke-width:1.1;"/>
<ellipse cx="989.5" cy="394.6" rx="2.1" ry="2.9" transform="rotate(22 989.5 394.6)" class="w" style="stroke-width:1.1;"/>
<ellipse cx="989.5" cy="416.6" rx="2.1" ry="2.9" transform="rotate(22 989.5 416.6)" class="w" style="stroke-width:1.1;"/>
<ellipse cx="1005.8" cy="419.4" rx="2.1" ry="2.9" transform="rotate(22 1005.8 419.4)" class="w" style="stroke-width:1.1;"/>
<ellipse cx="1010.6" cy="397.4" rx="15.6" ry="19.6" transform="rotate(22 1010.6 397.4)" class="w" style="stroke-width:1.8;"/>
<ellipse cx="1011.8" cy="397.8" rx="14" ry="18" transform="rotate(22 1011.8 397.8)" class="p" style="stroke-width:0.9;"/>
<path d="M1000,383.6 L1012,389.4 M997.6,410 L1009.6,415.6 M997.9,397.4 L1008,402 L1009,411 M1008,402 L1011,396" class="p" style="stroke-width:1;"/>
<ellipse cx="1019" cy="403" rx="10.8" ry="14.6" transform="rotate(22 1019 403)" class="w" style="stroke-width:1.6;"/>
<ellipse cx="1017.6" cy="404" rx="8" ry="12" transform="rotate(22 1017.6 404)" class="w" style="stroke-width:1.5;"/>
<ellipse cx="1016.6" cy="404.8" rx="5.6" ry="9.8" transform="rotate(22 1016.6 404.8)" class="p" style="stroke-width:0.9;"/>
<path d="M1023,393 C1025.6,398 1025.6,406 1023,412" class="t"/></g>
<path d="M957,396.6 L975.4,404.6 L973.6,410 L955.4,402 Z" class="w" style="stroke-width:0.9;"/>
<path d="M957,396.6 L966.4,400.8 L964.6,406 L955.4,402 Z" class="k" style="fill:#222;"/>
<ellipse cx="956" cy="399.4" rx="2.4" ry="3.2" transform="rotate(22 956 399.4)" class="k" style="fill:#333;"/>
<ellipse cx="974.6" cy="407.4" rx="1.7" ry="2.8" transform="rotate(22 974.6 407.4)" class="w" style="stroke-width:0.9;"/>
<path d="M1028.6,412 L1031.4,407.6 L1036.6,406.6 L1040.6,409 L1041.8,414 L1040,419.6 L1034.8,420.6 L1029.4,418 Z" class="w" style="stroke-width:1.2;"/>
<ellipse cx="1036.4" cy="414" rx="3.1" ry="4.6" transform="rotate(20 1036.4 414)" class="w" style="stroke-width:1.6;"/>
<path d="M1031.4,407.6 L1032.6,412.6 L1029.4,418 M1030,410 l2,1" class="p" style="stroke-width:1.2;"/>
<path d="M1039.6,423.6 L1052.2,417.2" class="p" style="stroke-width:2.2;stroke:#222;" stroke-dasharray="1.3 0.5"/>
<ellipse cx="1060.6" cy="429.6" rx="11" ry="15" transform="rotate(25 1060.6 429.6)" class="w" style="stroke-width:1;"/>
<ellipse cx="1062" cy="429" rx="10.6" ry="14.6" transform="rotate(25 1062 429)" class="w" style="stroke-width:1.9;"/>
<ellipse cx="1062.8" cy="429.2" rx="8.6" ry="12.6" transform="rotate(25 1062.8 429.2)" class="p" style="stroke-width:0.8;"/>
<path d="M1055,430.4 C1060,428 1066,427.4 1071.4,428 M1064.6,418.6 C1062,424 1060,432 1060.6,441" class="t"/>
<rect x="783.1" y="322.9" width="9.6" height="4.8" rx="2.4" class="w" style="stroke-width:1.5"/>
<path d="M787.5,322.3 v6" class="p" style="stroke-width:1.6;"/>
<path d="M784.9,324.1 h2 M789.5,324.1 h1.6" class="p" style="stroke-width:0.8;"/>
<rect x="777.7" y="368.8" width="9.6" height="4.8" rx="2.4" class="w" style="stroke-width:1.5"/>
<path d="M782.1,368.2 v6" class="p" style="stroke-width:1.6;"/>
<path d="M779.5,370 h2 M784.1,370 h1.6" class="p" style="stroke-width:0.8;"/>
<rect x="530.5" y="257.6" width="9.6" height="4.8" rx="2.4" class="w" style="stroke-width:1.5"/>
<path d="M534.9,257 v6" class="p" style="stroke-width:1.6;"/>
<path d="M532.3,258.8 h2 M536.9,258.8 h1.6" class="p" style="stroke-width:0.8;"/>
</g>
<!-- p_tileG_tileG.svg -->
<g>
<path d="M561,63 C561,61.4 562.6,60.8 564.4,60.8 C566.4,60.8 567.4,61.8 567.4,63 L567.4,67.6 C567.4,69 566.6,70 566.2,71 C565.6,72.4 563,72.4 562.4,71 C562,70 561,69 561,67.6 Z" class="w" style="stroke-width:1.1;"/>
<path d="M561,65.4 h6.4 M564.2,61 v4" class="t"/>
<ellipse cx="559.4" cy="64" rx="2.2" ry="2.3" class="w" style="stroke-width:1.5;"/>
<path d="M572.7,69.4 v4.6 a1.5,0.8 0 0 0 3,0 v-4.6 Z" class="w" style="stroke-width:1;"/>
<ellipse cx="574.2" cy="68.4" rx="3.7" ry="2.5" class="k" style="fill:#222;"/>
<path d="M572.8,67.8 h2.8" class="p" style="stroke-width:0.8;stroke:#bbb;"/>
<path d="M571,68.4 l3.2,-3.4 l3.2,3.4 l-3.2,2.6 Z" class="k" style="fill:#222;"/>
<path d="M552.4,84.6 C552.4,80 557.4,77 563.4,77 C568,77 572,78.6 575,81.6 L578.4,85 L577.6,86.6 L563.6,93.2 L561.8,93.2 C556,91.6 552.4,88.6 552.4,84.6 Z" class="w" style="stroke-width:1.1;"/>
<path d="M553,86.6 C555,89.6 558.6,91.4 562.6,91.8 L577.4,85.2" class="t"/>
<path d="M573.6,82.6 l2.8,2.8 l-1.6,1.2 l-2.6,-2.6 Z M561.4,90 l3,0.4 l-0.4,1.8 l-3,-0.6 Z" class="k" style="fill:#222;"/>
<ellipse cx="563.6" cy="83.8" rx="0.9" ry="0.6" class="k"/>
<path d="M555.9,107.4 v9.4 a7.7,3.9 0 0 0 15.4,0 v-9.4" class="w" style="stroke-width:1.2;"/>
<ellipse cx="563.6" cy="107.4" rx="7.7" ry="3.9" class="w" style="stroke-width:1.7;"/>
<ellipse cx="563.6" cy="108.1" rx="5.7" ry="2.6" class="p" style="stroke-width:1.4;fill:#999;"/>
<path d="M556.5,109.8 a7.1,3.9 0 0 0 14.2,0" class="t"/>
<path d="M561.8,113.3L561.8,120.1" class="t" style="stroke-width:1;stroke:#777;"/>
<path d="M557.9,128.4 V187.8 a5.5,2.2 0 0 0 11,0 V128.4" class="w" style="stroke-width:1.1;"/>
<ellipse cx="563.4" cy="128.4" rx="5.5" ry="2.2" class="w" style="stroke-width:1.1;"/>
<path d="M557.9,183.6 a5.5,2.2 0 0 0 11,0" class="p" style="stroke-width:1.6;stroke:#111;"/>
<path d="M557.9,185.6 a5.5,2.2 0 0 0 11,0" class="t"/>
<path d="M567.3,131.4L567.3,182" class="t" style="stroke-width:1;stroke:#888;"/>
<ellipse cx="559.3" cy="170" rx="1.1" ry="1.3" class="k"/>
<path d="M754.3,81.4 v6.2 a1.5,0.8 0 0 0 3,0 v-6.2 Z" class="w" style="stroke-width:1;"/>
<ellipse cx="755.8" cy="80.4" rx="3.8" ry="2.5" class="k" style="fill:#222;"/>
<path d="M754.4,79.8 h2.8" class="p" style="stroke-width:0.8;stroke:#bbb;"/>
<path d="M739,107.6 L739.2,112.6 L753.2,120.4 L768.4,118 L770.8,110.4 L769.6,107 L762.4,99.6 L750.4,91.8 L745.6,92.6 L742.6,96.6 L741.8,104 Z" class="w" style="stroke-width:1.4;"/>
<path d="M739,107.6 L753,115 L767.6,112 L770.6,109.6 M741.8,104 L752.6,110.4 L766,107.6 M742.6,96.6 L748,100 L748,108 M748,100 L751.6,96.6 L762,103 L766,107.6 M751.6,96.6 L750.4,92 M753,115 L753.2,120.2 M756.4,104.6 L761,103.4 L763.6,106 L758.6,107.6 Z M745.6,92.8 L746.4,99" class="p" style="stroke-width:1;"/>
<path d="M740.4,110.4 L753,117.4 L768,114.6" class="p" style="stroke-width:1.5;stroke:#111;"/>
<path d="M762.7,125.2 v5 a1.5,0.8 0 0 0 3,0 v-5 Z" class="w" style="stroke-width:1;"/>
<ellipse cx="764.2" cy="124.2" rx="3.5" ry="2.5" class="k" style="fill:#222;"/>
<path d="M762.8,123.6 h2.8" class="p" style="stroke-width:0.8;stroke:#bbb;"/>
<path d="M744.4,134.6 C744.4,131 748,128.4 752,128.6 L757,131 L765.6,135.4 C768,137.6 767.6,140.4 765,142 L759,145 C755,146 751.6,145 750.6,142.6 L750,139.4 C746.6,138.6 744.4,137 744.4,134.6 Z" class="w" style="stroke-width:1.5;"/>
<path d="M748,130 C750,132 752.6,133 755.6,133 L760,135 C762,136.6 762,139 760,140.4 C757,142 753,141.6 751,139.4 Z" class="k" style="fill:#2a2a2a;"/>
<path d="M750.6,142.6 C754,144 760,143 765,140 M746,136 C748,137.4 750,138 752,138" class="p" style="stroke-width:1;"/>
<ellipse cx="758.3" cy="153.1" rx="5" ry="2.8" class="w" style="stroke-width:1.3;"/>
<path d="M746.1,162.6 v4.6 a1.5,0.8 0 0 0 3,0 v-4.6 Z" class="w" style="stroke-width:1;"/>
<ellipse cx="747.6" cy="161.6" rx="3.4" ry="2.5" class="k" style="fill:#222;"/>
<path d="M746.2,161 h2.8" class="p" style="stroke-width:0.8;stroke:#bbb;"/>
<path d="M753.8,163 L756.4,159.6 L760.6,159.4 L762.8,162.4 L761.6,166.4 L758,167.8 L754.6,166.2 Z" class="k" style="fill:#222;"/>
<ellipse cx="758.6" cy="162.8" rx="1.7" ry="1.3" class="w" style="stroke-width:0.7;"/>
<path d="M740.2,180.6 C741,177.6 745,175.4 749.6,175 L755.6,172.6 L756,172 L758.4,172 L758.8,175 L765,178 L769.8,183.4 L768.6,186.4 L763,191.6 L757,191 L748,187 C743.6,185.6 740,183.6 740.2,180.6 Z" class="w" style="stroke-width:1.5;"/>
<path d="M742,181 C744,178.6 748,177.4 752,177.6 L758,176 L764,179.6 L767.6,184 L762,188.6 L756,188.4 L748,185 Z" class="k" style="fill:#2a2a2a;"/>
<path d="M750,180 l5,-1.6 l4,2 l0.4,3.4 l-4.6,1.4 l-4.6,-2 Z" class="w" style="stroke-width:1;"/>
<path d="M745,181.6 l3,1.4 M761,182 l3,1.6 M753,186.6 l3,0.6 M757,173 v3" class="p" style="stroke-width:1.1;stroke:#ddd;"/>
<ellipse cx="758.2" cy="197.9" rx="8" ry="4.3" class="w" style="stroke-width:1.3;"/>
<ellipse cx="758.2" cy="210.6" rx="7.6" ry="4.2" class="w" style="stroke-width:2.7;"/>
<path d="M751.6,212.4 a7,3.4 0 0 0 13.2,0" class="t"/>
<path d="M750.6,220.8 v9.2 a7.7,3.9 0 0 0 15.4,0 v-9.2" class="w" style="stroke-width:1.2;"/>
<ellipse cx="758.3" cy="220.8" rx="7.7" ry="3.9" class="w" style="stroke-width:1.7;"/>
<ellipse cx="758.3" cy="221.5" rx="5.7" ry="2.6" class="p" style="stroke-width:1.4;fill:#999;"/>
<path d="M751.2,223.2 a7.1,3.9 0 0 0 14.2,0" class="t"/>
<path d="M756.5,226.7L756.5,233.3" class="t" style="stroke-width:1;stroke:#777;"/>
<path d="M752.4,240.4 V298.8 a5.5,2.2 0 0 0 11,0 V240.4" class="w" style="stroke-width:1.1;"/>
<ellipse cx="757.9" cy="240.4" rx="5.5" ry="2.2" class="w" style="stroke-width:1.1;"/>
<path d="M752.4,294.6 a5.5,2.2 0 0 0 11,0" class="p" style="stroke-width:1.6;stroke:#111;"/>
<path d="M752.4,296.6 a5.5,2.2 0 0 0 11,0" class="t"/>
<path d="M761.8,243.4L761.8,293" class="t" style="stroke-width:1;stroke:#888;"/>
<ellipse cx="753.8" cy="281" rx="1.1" ry="1.3" class="k"/>
<path d="M754.9,241.2 L761.3,239.5" class="p" style="stroke-width:1;"/>
<path d="M656.2,234.8 L667.6,228.8 L670.2,235.4 L658.4,241.4 C655.6,242 654,236.8 656.2,234.8 Z" class="w" style="stroke-width:1.1;"/>
<path d="M658.6,235.8 L667.6,231.4 M659.6,238.8 L668.6,234" class="t" style="stroke:#777;"/>
<path d="M658.2,235 C657,236.8 657.4,239.8 659.2,241" class="t"/>
<path d="M667,228 L670.2,225 L674.2,225.8 L676.8,230.4 L676,235 L672.4,236.8 L669.8,236 Z" class="w" style="stroke-width:1.2;"/>
<path d="M667.6,228.4 L670.4,235.4" class="p" style="stroke-width:2;stroke:#111;"/>
<path d="M670.2,225 L672.2,229.8 L672.4,236.6 M672.2,229.8 L676.6,230.4" class="t"/>
<ellipse cx="648.9" cy="243.6" rx="5.2" ry="5.9" transform="rotate(-20 648.9 243.6)" class="w" style="stroke-width:1.5;"/>
<ellipse cx="649.3" cy="242.6" rx="4.4" ry="4.8" transform="rotate(-20 649.3 242.6)" class="p" style="stroke-width:1;"/>
<ellipse cx="649.5" cy="243.4" rx="2.4" ry="2.8" transform="rotate(-20 649.5 243.4)" class="w" style="stroke-width:1.4;"/>
<path d="M645.9,241.6 l6,-1.4 M647.3,245.6 l4,2" class="p" style="stroke-width:1;"/>
<path d="M723.8,274.2 L735.2,268.2 L737.8,274.8 L726,280.8 C723.2,281.4 721.6,276.2 723.8,274.2 Z" class="w" style="stroke-width:1.1;"/>
<path d="M726.2,275.2 L735.2,270.8 M727.2,278.2 L736.2,273.4" class="t" style="stroke:#777;"/>
<path d="M725.8,274.4 C724.6,276.2 725,279.2 726.8,280.4" class="t"/>
<path d="M734.6,267.4 L737.8,264.4 L741.8,265.2 L744.4,269.8 L743.6,274.4 L740,276.2 L737.4,275.4 Z" class="w" style="stroke-width:1.2;"/>
<path d="M735.2,267.8 L738,274.8" class="p" style="stroke-width:2;stroke:#111;"/>
<path d="M737.8,264.4 L739.8,269.2 L740,276 M739.8,269.2 L744.2,269.8" class="t"/>
<ellipse cx="716.6" cy="282.4" rx="5.2" ry="5.9" transform="rotate(-20 716.6 282.4)" class="w" style="stroke-width:1.5;"/>
<ellipse cx="717" cy="281.4" rx="4.4" ry="4.8" transform="rotate(-20 717 281.4)" class="p" style="stroke-width:1;"/>
<ellipse cx="717.2" cy="282.2" rx="2.4" ry="2.8" transform="rotate(-20 717.2 282.2)" class="w" style="stroke-width:1.4;"/>
<path d="M713.6,280.4 l6,-1.4 M715,284.4 l4,2" class="p" style="stroke-width:1;"/>
</g>
<!-- p_tileH_tileH.svg -->
<g>
<path d="M201.6,258.4 L201.8,271.6 L232,289.6 L240,284 L240,270 L228,263.4 Z" class="w" style="stroke-width:1.1;"/>
<path d="M201.6,258.4 C201.6,255.4 205,252.8 210.4,252.6 C214.6,252.6 218,254 220.6,256.6 L228.2,263.6 L218.8,268.8 L201.8,262.6 Z" class="w" style="stroke-width:1.2;"/>
<ellipse cx="211.6" cy="258.4" rx="4.6" ry="2.5" class="w" style="stroke-width:1.1;"/>
<path d="M218.8,268.8 L218.8,281.6 M218.8,268.8 L226,266.8 L236,268 M205.4,264 v9.6 M218.8,275 L232,281.4 M228,263.6 L240,270" class="p" style="stroke-width:1;"/>
<path d="M232,270 C229.6,274 229.6,282 232,289.6 M236.6,268 C234,273 234,281 236.6,287" class="p" style="stroke-width:1;"/>
<path d="M236,266.4 L242,264.6 L244,268.6" class="p" style="stroke-width:1.2;"/>
<path d="M246,264.6 C243,264.6 238.4,270 237.6,279 C237,286 238.6,291 241.6,293 L268,310.6 L287,281 L253,265 Z" class="k" style="fill:#1c1c1c;"/>
<path d="M246,268 C242.6,274 242,283 244.6,290 M250.6,270 C247,276 246.6,286 249.4,293.4 M255.2,272 C251.6,279 251.4,289 254.4,296.6 M260,274.6 C256.4,281.6 256.2,291.6 259.4,300 M264.6,277 C261,284 261,294 264.2,303 M269.4,279.4 C266,286.6 266,296.6 269,306" class="p" style="stroke-width:0.7;stroke:#8a8a8a;"/>
<ellipse cx="277.4" cy="296.6" rx="10.6" ry="15.6" transform="rotate(24 277.4 296.6)" class="w" style="stroke-width:1.1;"/>
<ellipse cx="279.6" cy="297.4" rx="9.6" ry="14.6" transform="rotate(24 279.6 297.4)" class="w" style="stroke-width:1.1;"/>
<ellipse cx="277.6" cy="298" rx="6.8" ry="11.6" transform="rotate(24 277.6 298)" class="k" style="fill:#333;"/>
<path d="M283,287 C286.6,291 287.4,300 284,308" class="p" style="stroke-width:1;stroke:#fff;"/>
<path d="M189,302.8 L196.4,297.8 C197.4,297.4 197.8,297.8 197.8,298.8 L197.6,309 L189.6,313.8 C188.6,314.2 188.2,313.6 188.2,312.6 L188.2,309.8 L187.4,309.4 L188.2,308.2 Z" class="w" style="stroke-width:1.5;"/>
<ellipse cx="246.8" cy="328.6" rx="11.6" ry="14.6" transform="rotate(22 246.8 328.6)" class="w" style="stroke-width:1.1;"/>
<ellipse cx="248" cy="328.2" rx="10.2" ry="13" transform="rotate(22 248 328.2)" class="p" style="stroke-width:0.9;"/>
<path d="M238.4,322 l2.6,-3.6 l2.6,1.2 l-2.4,3.8 Z" class="w" style="stroke-width:1;"/>
<path d="M238.2,322.2 l1.8,0.8" class="p" style="stroke-width:1.8;stroke:#111;"/>
<ellipse cx="653.4" cy="509" rx="9.4" ry="14.4" transform="rotate(24 653.4 509)" class="w" style="stroke-width:1.1;"/>
<path d="M655.6,496 C659,494 662,494.6 664,496 L660,497" class="w" style="stroke-width:1.1;"/>
<path d="M660,496.6 C656.6,497 652.6,503 651.4,511 C650.6,517 651.6,521.4 654,523.6 L680,540.6 C678,534 679,524 683,517 C685.6,513 690,511 696.4,513.6 Z" class="k" style="fill:#1c1c1c;"/>
<path d="M662.6,499.6 C659,506 658.6,516 661.4,524.6 M667.4,501.6 C663.6,508 663.4,519 666.4,528 M672.2,503.6 C668.4,510.6 668.2,521.4 671.4,531 M677,506 C673.4,513 673.4,524 676.6,534 M682,508.4 C678.6,514 678,521 679.4,528" class="p" style="stroke-width:0.7;stroke:#8a8a8a;"/>
<path d="M696.4,513.6 C690,511 685.6,513 683,517 C679,524 678,534 680,540.6 C683,542.6 686.4,542 688.6,539.6" class="w" style="stroke-width:1.1;"/>
<ellipse cx="684.6" cy="529.4" rx="5.4" ry="12.8" transform="rotate(22 684.6 529.4)" class="w" style="stroke-width:1.1;"/>
<path d="M687.6,518.6 L699.6,519.6 L703.2,525.6 L703.8,535.8 L703.8,555 L697.9,549.4 L686.4,541 Z" class="w" style="stroke-width:1.1;"/>
<path d="M691.2,524.8 C692,530 693,534 694.6,536 L698,539.2 L698,549 M694.6,524 C696,528 698,531 700.6,532.6 L703.6,534 M690.4,517 l3.6,-2 l3,2" class="p" style="stroke-width:1;"/>
<path d="M688.6,516.8 l2.6,1.6" class="p" style="stroke-width:2;stroke:#111;"/>
<path d="M703.8,546 L703.8,555 L709.6,560.4 L722,556.4 C724,555 725,553 725,551 L725,543" class="w" style="stroke-width:1.1;"/>
<path d="M703.8,535.8 C707,533.6 713,533.6 718,535.4 C722.6,537.4 725.4,540.6 725,543.4 C724.6,546.4 721,548 716,548.6 L709.6,549.6 L703.8,546.6 Z" class="w" style="stroke-width:1.2;"/>
<ellipse cx="714" cy="541.4" rx="4.6" ry="2.6" class="w" style="stroke-width:1.1;"/>
<path d="M709.6,549.6 V560.2 M711.4,553.6 L721.4,551.6 L721.6,554 L711.6,556 Z" class="p" style="stroke-width:1;"/>
<path d="M680.2,561.8 L687.6,556.8 C688.6,556.4 689,556.8 689,557.8 L688.8,568 L680.8,572.8 C679.8,573.2 679.4,572.6 679.4,571.6 L679.4,568.8 L678.6,568.4 L679.4,567.2 Z" class="w" style="stroke-width:1.5;"/>
<ellipse cx="634.4" cy="540.2" rx="11.6" ry="14.6" transform="rotate(22 634.4 540.2)" class="w" style="stroke-width:1.1;"/>
<ellipse cx="635.6" cy="539.8" rx="10.2" ry="13" transform="rotate(22 635.6 539.8)" class="p" style="stroke-width:0.9;"/>
<path d="M626,533.6 l2.6,-3.6 l2.6,1.2 l-2.4,3.8 Z" class="w" style="stroke-width:1;"/>
<path d="M625.8,533.8 l1.8,0.8" class="p" style="stroke-width:1.8;stroke:#111;"/>
</g>
<g fill="none" stroke="#2a2a2a" stroke-width="1">
<path d="M460.8,96.8 L563.6,238.3" stroke-dasharray="75 2 2 2" stroke-dashoffset="52"/>
<path d="M460.8,248 L563.6,241.5" stroke-dasharray="75 2 2 2" stroke-dashoffset="26"/>
<path d="M434.7,195 L434.8,265.8 L357.4,355.8 L357.4,399.2" stroke-dasharray="75 2 2 2" stroke-dashoffset="-15"/>
<path d="M434,164.5 L369.4,319" stroke-dasharray="75 2 2 2" stroke-dashoffset="30"/>
<path d="M454.8,187.8 L405.7,217.6" stroke-dasharray="75 2 2 2" stroke-dashoffset="46"/>
<path d="M858.6,244.8 L758,346.6" stroke-dasharray="75 2 2 2" stroke-dashoffset="12"/>
<path d="M758,351 L858.9,400.2" stroke-dasharray="75 2 2 2" stroke-dashoffset="12"/>
<path d="M460.8,116.3 L460.8,96.8"/>
<path d="M563.6,238.3 L563.6,252"/>
<path d="M460.8,242.1 L460.8,248"/>
<path d="M858.6,260 L858.6,244.8"/>
<path d="M758,346.6 L758,339"/>
<path d="M758,364.8 L758,351"/>
<path d="M858.9,400.2 L858.9,393"/>
</g>
<g fill="none" stroke-width="1.3">
<path d="M260.6,35.4 L260.6,44.6" stroke="#2a2a2a"/>
<path d="M288,53.5 L288,67" stroke="#2a2a2a"/>
<path d="M321.3,50 L321.3,63" stroke="#2a2a2a"/>
<path d="M358.8,69.6 L358.8,81.7" stroke="#2a2a2a"/>
<path d="M276.7,72 L276.7,89.7" stroke="#8a8a8a"/>
<path d="M385.9,101.8 L385.9,113.7" stroke="#2a2a2a"/>
<path d="M348,124 L348,134.6" stroke="#2a2a2a"/>
<path d="M365.1,132 L365.1,150" stroke="#2a2a2a"/>
<path d="M402.1,155.5 L402.1,167.6" stroke="#2a2a2a"/>
<path d="M440.3,115.3 L450.8,115.3" stroke="#2a2a2a"/>
<path d="M443.5,138.2 L450,138.2" stroke="#2a2a2a"/>
<path d="M479,161.2 L483.8,161.2" stroke="#2a2a2a"/>
<path d="M468.5,180.5 L486.2,180.5" stroke="#8a8a8a"/>
<path d="M399.6,208.8 L399.6,218.4" stroke="#2a2a2a"/>
<path d="M382.3,221.3 L393.6,221.3" stroke="#2a2a2a"/>
<path d="M368.6,232.9 L378.3,232.9" stroke="#2a2a2a"/>
<path d="M467.7,204 L477.3,204" stroke="#2a2a2a"/>
<path d="M467.7,219.6 L477.3,219.6" stroke="#2a2a2a"/>
<path d="M467.7,232.9 L477.3,232.9" stroke="#2a2a2a"/>
<path d="M343.5,274.2 L352.7,274.2" stroke="#2a2a2a"/>
<path d="M343.8,300 L353.5,300" stroke="#2a2a2a"/>
<path d="M343,333 L350.3,333" stroke="#2a2a2a"/>
<path d="M409.5,273.8 L409.5,284.1 L394.5,289.5" stroke="#2a2a2a"/>
<path d="M397,301.2 L409.8,301.2" stroke="#2a2a2a"/>
<path d="M419.5,323.8 L419.5,330.2 L399.4,330.2" stroke="#2a2a2a"/>
<path d="M399.4,344.2 L408.2,344.2" stroke="#8a8a8a"/>
<path d="M343.7,402.8 L351.8,402.8" stroke="#2a2a2a"/>
<path d="M343.7,417 L350,417" stroke="#2a2a2a"/>
<path d="M396,414.5 L407.3,414.5" stroke="#2a2a2a"/>
<path d="M334.9,433.8 L350.2,433.8" stroke="#8a8a8a"/>
<path d="M343.4,450.7 L351.8,450.7" stroke="#8a8a8a"/>
<path d="M343.4,468 L354.2,468" stroke="#8a8a8a"/>
<path d="M398.5,429 L407.8,429" stroke="#2a2a2a"/>
<path d="M396.9,462.5 L407.8,462.5" stroke="#2a2a2a"/>
<path d="M395.3,479.7 L407.8,479.7" stroke="#2a2a2a"/>
<path d="M390.1,371.9 L390.1,412.1" stroke="#8a8a8a"/>
<path d="M192.3,315.8 L192.3,358.4 L278.7,358.4 L278.7,311.4" stroke="#2a2a2a"/>
<path d="M246.8,344.8 L246.8,358.4" stroke="#2a2a2a"/>
<path d="M235.2,358.4 L235.2,366.5" stroke="#2a2a2a"/>
<path d="M626.9,8 L626.9,20.1" stroke="#2a2a2a"/>
<path d="M544.3,63.8 L558,63.8" stroke="#2a2a2a"/>
<path d="M578.9,69.5 L590.2,69.5" stroke="#8a8a8a"/>
<path d="M575.7,88 L590.2,88" stroke="#2a2a2a"/>
<path d="M570.9,114.1 L590.2,114.1" stroke="#2a2a2a"/>
<path d="M569.2,153.5 L590.2,153.5" stroke="#8a8a8a"/>
<path d="M663.2,211.7 L663.2,229.5" stroke="#8a8a8a"/>
<path d="M649,225.7 L649,237.5" stroke="#2a2a2a"/>
<path d="M731.1,250.9 L731.1,269.7" stroke="#2a2a2a"/>
<path d="M717.1,264.9 L717.1,277" stroke="#8a8a8a"/>
<path d="M763.3,260.4 L781,260.4" stroke="#2a2a2a"/>
<path d="M535.1,262.5 L535.1,277.8" stroke="#2a2a2a"/>
<path d="M483.8,359.5 L483.8,392.5" stroke="#2a2a2a"/>
<path d="M541.5,343.3 L541.5,353" stroke="#2a2a2a"/>
<path d="M525.4,369.6 L536.2,369.6" stroke="#2a2a2a"/>
<path d="M516.8,384.7 L524.4,384.7 L536.5,420" stroke="#2a2a2a"/>
<path d="M568.4,376.7 L579.6,376.7" stroke="#2a2a2a"/>
<path d="M565.9,399.4 L580.4,399.4" stroke="#2a2a2a"/>
<path d="M631.2,344.2 L631.2,361.1" stroke="#8a8a8a"/>
<path d="M571.6,416.9 L580.4,416.9" stroke="#2a2a2a"/>
<path d="M570.8,441.9 L580.4,441.9" stroke="#2a2a2a"/>
<path d="M527.3,460.9 L537,460.9" stroke="#2a2a2a"/>
<path d="M527.3,474.9 L533.7,474.9" stroke="#2a2a2a"/>
<path d="M568.4,480.2 L580.4,480.2" stroke="#2a2a2a"/>
<path d="M570.8,493.1 L580.4,493.1" stroke="#8a8a8a"/>
<path d="M518.4,492.6 L533.7,492.6" stroke="#2a2a2a"/>
<path d="M527.3,508.6 L536.2,508.6" stroke="#2a2a2a"/>
<path d="M527.3,522.3 L537.8,522.3" stroke="#2a2a2a"/>
<path d="M569.2,526 L580.4,526" stroke="#2a2a2a"/>
<path d="M566.7,538.1 L580.4,538.1" stroke="#2a2a2a"/>
<path d="M633.6,556 L633.6,583.6 L712.4,583.6 L712.4,560.2" stroke="#2a2a2a"/>
<path d="M684,574 L684,583.6" stroke="#2a2a2a"/>
<path d="M672.2,583.6 L672.2,591.8" stroke="#2a2a2a"/>
<path d="M758.8,83.3 L768.9,83.3" stroke="#2a2a2a"/>
<path d="M770.5,111.9 L780.5,111.9" stroke="#2a2a2a"/>
<path d="M766.8,127.3 L831.2,127.3 L831.2,210.9" stroke="#2a2a2a"/>
<path d="M767.3,139.4 L831.2,139.4" stroke="#2a2a2a"/>
<path d="M763.6,153.1 L780.2,153.1" stroke="#2a2a2a"/>
<path d="M802.3,153.1 L831.2,153.1" stroke="#2a2a2a"/>
<path d="M735.4,162.9 L745,162.9" stroke="#2a2a2a"/>
<path d="M762.8,165.8 L779.7,165.8" stroke="#8a8a8a"/>
<path d="M802.3,165.8 L831.2,165.8" stroke="#8a8a8a"/>
<path d="M831.2,169 L841.7,169" stroke="#2a2a2a"/>
<path d="M769.2,183.5 L780.2,183.5" stroke="#2a2a2a"/>
<path d="M766,198 L780.2,198" stroke="#2a2a2a"/>
<path d="M802.3,198 L831.2,198" stroke="#2a2a2a"/>
<path d="M766,210.9 L780.2,210.9" stroke="#8a8a8a"/>
<path d="M802.3,210.9 L831.2,210.9" stroke="#8a8a8a"/>
<path d="M766,227.4 L780.2,227.4" stroke="#2a2a2a"/>
<path d="M870.2,261.1 L884.7,261.1" stroke="#8a8a8a"/>
<path d="M869.4,282.7 L884.7,282.7" stroke="#2a2a2a"/>
<path d="M883,293.6 L893.5,293.6" stroke="#2a2a2a"/>
<path d="M892.4,315.3 L892.4,325.8" stroke="#2a2a2a"/>
<path d="M918.2,315.3 L918.2,329" stroke="#2a2a2a"/>
<path d="M937.8,324.2 L937.8,340.3" stroke="#2a2a2a"/>
<path d="M957.9,337 L957.9,353.9" stroke="#2a2a2a"/>
<path d="M973.3,353.3 L973.3,365.4" stroke="#2a2a2a"/>
<path d="M1002.6,347.7 L1002.6,364.6" stroke="#2a2a2a"/>
<path d="M1046.5,400 L1046.5,417" stroke="#2a2a2a"/>
<path d="M969.6,410.6 L969.6,424.3" stroke="#2a2a2a"/>
<path d="M1034.5,421 L1034.5,434.8" stroke="#2a2a2a"/>
<path d="M1062.3,442 L1062.3,456.5" stroke="#2a2a2a"/>
<path d="M830.2,321.7 L830.2,336.2" stroke="#8a8a8a"/>
<path d="M811.9,334.6 L811.9,348.3" stroke="#2a2a2a"/>
<path d="M788.2,326.9 L788.2,336.6" stroke="#2a2a2a"/>
<path d="M822.7,346.7 L822.7,361.2" stroke="#2a2a2a"/>
<path d="M782.1,373.6 L782.1,383.3" stroke="#8a8a8a"/>
<path d="M866.2,349.6 L876.6,349.6" stroke="#2a2a2a"/>
<path d="M866.2,369.2 L876.6,369.2" stroke="#2a2a2a"/>
<path d="M866.2,383.7 L876.6,383.7" stroke="#2a2a2a"/>
</g>
<g fill="#000">
<circle cx="773.3" cy="227.4" r="2.7"/>
<circle cx="876.6" cy="282.7" r="2.7"/>
<circle cx="918.2" cy="321.7" r="2.7"/>
<circle cx="811.9" cy="341.5" r="2.7"/>
<circle cx="822.7" cy="354.8" r="2.7"/>
<circle cx="872.1" cy="349.6" r="2.7"/>
<circle cx="872.1" cy="369.2" r="2.7"/>
<circle cx="872.1" cy="383.7" r="2.7"/>
<circle cx="1046.5" cy="409.4" r="2.7"/>
</g>
<g class="lb">
<text x="254.2" y="32.2">45</text>
<text x="279.1" y="50.6">44G</text>
<text x="314.5" y="47">44</text>
<text x="350" y="66.7">44C</text>
<text x="266.7" y="100.5">44E</text>
<text x="376.5" y="99.9">44A</text>
<text x="336.8" y="144.8">44H</text>
<text x="355" y="161.2">44B</text>
<text x="392.8" y="178.9">44F</text>
<text x="421.8" y="119.6">EK</text>
<text x="421.5" y="142.2">42A</text>
<text x="484.6" y="165.7">AC</text>
<text x="489" y="185">41</text>
<text x="392.5" y="205.6">JC</text>
<text x="363.8" y="225.4">DY</text>
<text x="350.1" y="237.8">BX</text>
<text x="480.6" y="207.6">42E</text>
<text x="480.6" y="223.3">42C</text>
<text x="480.6" y="237">42B</text>
<text x="324.8" y="277.7">CL</text>
<text x="324.8" y="304">DG</text>
<text x="324.8" y="337">CK</text>
<text x="401" y="270.6">CL</text>
<text x="412.3" y="305.2">DG</text>
<text x="415" y="320.9">47[UPPER]</text>
<text x="411.4" y="348.6">CK</text>
<text x="462.1" y="341.5">Refer to</text>
<text x="461.6" y="353">4302-01</text>
<text x="326" y="407.3">CP</text>
<text x="325.7" y="421">CK</text>
<text x="268" y="436.2">47[LOWER]</text>
<text x="328.4" y="455.6">JS</text>
<text x="330.5" y="472.5">IK</text>
<text x="410.7" y="418.8">CP</text>
<text x="410.5" y="433.5">CK</text>
<text x="410.6" y="466.8">JS</text>
<text x="410.6" y="484.5">IK</text>
<text x="180.1" y="231.7">(P/S CYL BOOT)</text>
<text x="191.7" y="375.8">Refer to FIG.4302</text>
<text x="620.3" y="5.6">01</text>
<text x="526" y="68.2">AB</text>
<text x="593.1" y="74.3">AU</text>
<text x="593.4" y="92.8">HJ</text>
<text x="593.1" y="118.1">42C</text>
<text x="593.1" y="158">42</text>
<text x="655.2" y="207.4">CG</text>
<text x="641.7" y="222.2">EV</text>
<text x="722.3" y="247.6">CG</text>
<text x="709.9" y="260.9">EV</text>
<text x="528.2" y="288.6">AC</text>
<text x="534.1" y="339.6">CL</text>
<text x="502.8" y="373.1">DG</text>
<text x="496.4" y="388.4">CK</text>
<text x="582.9" y="382.5">CL</text>
<text x="584.5" y="404.1">DG</text>
<text x="624.7" y="371.2">20</text>
<text x="584" y="421.3">47[UPPER]</text>
<text x="584.5" y="445.4">CK</text>
<text x="508.8" y="464.4">CP</text>
<text x="508.8" y="478.6">CK</text>
<text x="584.5" y="483.7">CP</text>
<text x="584.5" y="497.4">CK</text>
<text x="450.8" y="495">47[LOWER]</text>
<text x="511.7" y="512.2">JS</text>
<text x="513.1" y="526.7">IK</text>
<text x="584.5" y="529.9">JS</text>
<text x="584.5" y="542.1">IK</text>
<text x="613.2" y="472.4">(P/S CYL BOOT)</text>
<text x="629.7" y="600.1">Refer to FIG.4302</text>
<text x="772.8" y="87.7">CD</text>
<text x="783.7" y="116.4">AT</text>
<text x="783.7" y="157.1">AS</text>
<text x="716.9" y="167">GB</text>
<text x="784" y="169.8">JB</text>
<text x="844.1" y="172.7">05</text>
<text x="784" y="187.8">EZ</text>
<text x="783.7" y="202.5">AO</text>
<text x="784" y="215.4">BP</text>
<text x="783.7" y="231.8">42C</text>
<text x="783.9" y="264.9">42</text>
<text x="887.1" y="265.1">EK</text>
<text x="886.3" y="286.7">42A</text>
<text x="895.9" y="297.3">AC</text>
<text x="886" y="311.3">40</text>
<text x="906.4" y="310.1">44F</text>
<text x="929" y="321.9">44A</text>
<text x="948.3" y="333.5">44B</text>
<text x="963.6" y="349.2">44H</text>
<text x="995.8" y="344.2">44</text>
<text x="1037.2" y="396.8">44E</text>
<text x="959.3" y="435.1">44C</text>
<text x="1024" y="445.7">44G</text>
<text x="1055.9" y="466.2">45</text>
<text x="822.7" y="318.3">JC</text>
<text x="805" y="330.9">BX</text>
<text x="780.5" y="346.7">AC</text>
<text x="815.5" y="372">DY</text>
<text x="774.4" y="393.4">AC</text>
<text x="879" y="353.1">42E</text>
<text x="879" y="373.3">42C</text>
<text x="879" y="388.2">42B</text>
<text x="942" y="112.9">42K=(INCL. <tspan x="1007.6" y="110.1" style="font-family:'DejaVu Sans','Liberation Sans',sans-serif;font-weight:normal;font-size:7.5px;stroke-width:0.3px">● </tspan><tspan x="1018.7" y="112.9">)</tspan></text>
</g>
<g id="wm" style="mix-blend-mode:multiply">
<g transform="translate(429.1,118.6)" fill="none" stroke="#f9dada" stroke-linecap="round" stroke-linejoin="round">
<path d="M-92.0,-39.9 L-90.0,-40.9 L-88.0,-41.8 L-86.0,-42.8 L-84.0,-43.8 L-82.0,-44.7 L-80.0,-45.6 L-78.0,-46.4 L-76.0,-47.3 L-74.0,-48.1 L-72.0,-48.9 L-70.0,-49.7 L-68.0,-50.5 L-66.0,-51.2 L-64.0,-52.0 L-62.0,-52.7 L-60.0,-53.3 L-58.0,-54.0 L-56.0,-54.6 L-54.0,-55.2 L-52.0,-55.8 L-50.0,-56.4 L-48.0,-56.9 L-46.0,-57.4 L-44.0,-57.9 L-42.0,-58.4 L-40.0,-58.9 L-38.0,-59.3 L-36.0,-59.7 L-34.0,-60.1 L-32.0,-60.5 L-30.0,-60.8 L-28.0,-61.1 L-26.0,-61.4 L-24.0,-61.7 L-22.0,-62.0 L-20.0,-62.2 L-18.0,-62.4 L-16.0,-62.6 L-14.0,-62.8 L-12.0,-62.9 L-10.0,-63.0 L-8.0,-63.1 L-6.0,-63.2 L-4.0,-63.3 L-2.0,-63.3 L0.0,-63.3 L2.0,-63.3 L4.0,-63.3 L6.0,-63.2 L8.0,-63.1 L10.0,-63.0 L12.0,-62.9 L14.0,-62.8 L16.0,-62.6 L18.0,-62.4 L20.0,-62.2 L22.0,-62.0 L24.0,-61.7 L26.0,-61.4 L28.0,-61.1 L30.0,-60.8 L32.0,-60.5 L34.0,-60.1 L36.0,-59.7 L38.0,-59.3 L40.0,-58.9 L42.0,-58.4 L44.0,-57.9 L46.0,-57.4 L48.0,-56.9 L50.0,-56.4 L52.0,-55.8 L54.0,-55.2 L56.0,-54.6 L58.0,-54.0 L60.0,-53.3 L62.0,-52.7 L64.0,-52.0 L66.0,-51.2 L68.0,-50.5 L70.0,-49.7 L72.0,-48.9 L74.0,-48.1 L76.0,-47.3 L78.0,-46.4 L80.0,-45.6 L82.0,-44.7 L84.0,-43.8 L86.0,-42.8 L88.0,-41.8 L90.0,-40.9 L92.0,-39.9 L94.6,-37.2 L96.4,-33.6 L97.4,-29.0 L98.0,-20.0 L98.4,-5.0 L98.6,10.0 L98.6,25.0 L98.5,29.3 L98.2,32.3 L97.7,34.9 L96.9,37.4 L96.0,39.6 L94.9,41.8 L93.5,43.8 L92.0,45.7 L90.2,47.6 L88.3,49.3 L86.1,50.9 L83.8,52.5 L81.2,54.0 L78.5,55.4 L75.5,56.7 L72.4,57.9 L69.0,59.1 L65.5,60.2 L61.8,61.2 L57.9,62.1 L53.7,62.9 L49.4,63.6 L44.8,64.3 L40.0,64.8 L34.9,65.3 L29.5,65.7 L23.7,66.0 L17.4,66.2 L10.2,66.4 L0.0,66.4 L-10.2,66.4 L-17.4,66.2 L-23.7,66.0 L-29.5,65.7 L-34.9,65.3 L-40.0,64.8 L-44.8,64.3 L-49.4,63.6 L-53.7,62.9 L-57.9,62.1 L-61.8,61.2 L-65.5,60.2 L-69.0,59.1 L-72.4,57.9 L-75.5,56.7 L-78.5,55.4 L-81.2,54.0 L-83.8,52.5 L-86.1,50.9 L-88.3,49.3 L-90.2,47.6 L-92.0,45.7 L-93.5,43.8 L-94.9,41.8 L-96.0,39.6 L-96.9,37.4 L-97.7,34.9 L-98.2,32.3 L-98.5,29.3 L-98.6,25.0 L-98.6,10.0 L-98.4,-5.0 L-98.0,-20.0 L-97.4,-29.0 L-96.4,-33.6 L-94.6,-37.2 Z" stroke-width="4.3"/>
<path d="M90.6,-21.0 L91.6,-8.0 L92.0,10.0 L92.0,25.0 L91.4,31.0" stroke-width="2.6"/>
<path d="M-90.6,-21.0 L-91.6,-8.0 L-92.0,10.0 L-92.0,25.0 L-91.4,31.0" stroke-width="2.6"/>
<path d="M-86.0,-27.0 L-84.0,-28.0 L-82.0,-28.9 L-80.0,-29.9 L-78.0,-30.7 L-76.0,-31.6 L-74.0,-32.5 L-72.0,-33.3 L-70.0,-34.1 L-68.0,-34.9 L-66.0,-35.6 L-64.0,-36.3 L-62.0,-37.1 L-60.0,-37.7 L-58.0,-38.4 L-56.0,-39.1 L-54.0,-39.7 L-52.0,-40.3 L-50.0,-40.8 L-48.0,-41.4 L-46.0,-41.9 L-44.0,-42.4 L-42.0,-42.9 L-40.0,-43.4 L-38.0,-43.8 L-36.0,-44.2 L-34.0,-44.6 L-32.0,-45.0 L-30.0,-45.4 L-28.0,-45.7 L-26.0,-46.0 L-24.0,-46.3 L-22.0,-46.5 L-20.0,-46.8 L-18.0,-47.0 L-16.0,-47.2 L-14.0,-47.3 L-12.0,-47.5 L-10.0,-47.6 L-8.0,-47.7 L-6.0,-47.8 L-4.0,-47.9 L-2.0,-47.9 L0.0,-47.9 L2.0,-47.9 L4.0,-47.9 L6.0,-47.8 L8.0,-47.7 L10.0,-47.6 L12.0,-47.5 L14.0,-47.3 L16.0,-47.2 L18.0,-47.0 L20.0,-46.8 L22.0,-46.5 L24.0,-46.3 L26.0,-46.0 L28.0,-45.7 L30.0,-45.4 L32.0,-45.0 L34.0,-44.6 L36.0,-44.2 L38.0,-43.8 L40.0,-43.4 L42.0,-42.9 L44.0,-42.4 L46.0,-41.9 L48.0,-41.4 L50.0,-40.8 L52.0,-40.3 L54.0,-39.7 L56.0,-39.1 L58.0,-38.4 L60.0,-37.7 L62.0,-37.1 L64.0,-36.3 L66.0,-35.6 L68.0,-34.9 L70.0,-34.1 L72.0,-33.3 L74.0,-32.5 L76.0,-31.6 L78.0,-30.7 L80.0,-29.9 L82.0,-28.9 L84.0,-28.0 L86.0,-27.0" stroke-width="12.6"/>
<path d="M93.0,32.6 L92.7,33.7 L92.4,34.8 L92.0,35.8 L91.6,36.8 L91.1,37.8 L90.6,38.7 L90.1,39.7 L89.4,40.6 L88.8,41.4 L88.1,42.3 L87.3,43.1 L86.5,43.9 L85.6,44.7 L84.7,45.5 L83.8,46.2 L82.8,47.0 L81.8,47.7 L80.7,48.4 L79.5,49.1 L78.3,49.7 L77.1,50.4 L75.8,51.0 L74.5,51.6 L73.1,52.2 L71.7,52.7 L70.2,53.3 L68.7,53.8 L67.2,54.3 L65.5,54.8 L63.9,55.3 L62.2,55.8 L60.4,56.2 L58.7,56.6 L56.8,57.0 L54.9,57.4 L53.0,57.8 L51.0,58.1 L48.9,58.5 L46.9,58.8 L44.7,59.1 L42.5,59.3 L40.2,59.6 L37.9,59.8 L35.5,60.0 L33.1,60.2 L30.6,60.4 L28.0,60.6 L25.3,60.7 L22.5,60.9 L19.5,61.0 L16.5,61.0 L13.2,61.1 L9.7,61.2 L5.7,61.2 L0.0,61.2 L-5.7,61.2 L-9.7,61.2 L-13.2,61.1 L-16.5,61.0 L-19.5,61.0 L-22.5,60.9 L-25.3,60.7 L-28.0,60.6 L-30.6,60.4 L-33.1,60.2 L-35.5,60.0 L-37.9,59.8 L-40.2,59.6 L-42.5,59.3 L-44.7,59.1 L-46.9,58.8 L-48.9,58.5 L-51.0,58.1 L-53.0,57.8 L-54.9,57.4 L-56.8,57.0 L-58.7,56.6 L-60.4,56.2 L-62.2,55.8 L-63.9,55.3 L-65.5,54.8 L-67.2,54.3 L-68.7,53.8 L-70.2,53.3 L-71.7,52.7 L-73.1,52.2 L-74.5,51.6 L-75.8,51.0 L-77.1,50.4 L-78.3,49.7 L-79.5,49.1 L-80.7,48.4 L-81.8,47.7 L-82.8,47.0 L-83.8,46.2 L-84.7,45.5 L-85.6,44.7 L-86.5,43.9 L-87.3,43.1 L-88.1,42.3 L-88.8,41.4 L-89.4,40.6 L-90.1,39.7 L-90.6,38.7 L-91.1,37.8 L-91.6,36.8 L-92.0,35.8 L-92.4,34.8 L-92.7,33.7 L-93.0,32.6 Z" fill="#f9dada" stroke-width="1"/>
<clipPath id="lc1"><path d="M-100.0,-5.6 L-96.0,-8.0 L-92.0,-10.2 L-88.0,-12.4 L-84.0,-14.4 L-80.0,-16.4 L-76.0,-18.3 L-72.0,-20.0 L-68.0,-21.7 L-64.0,-23.3 L-60.0,-24.8 L-56.0,-26.2 L-52.0,-27.5 L-48.0,-28.7 L-44.0,-29.8 L-40.0,-30.8 L-36.0,-31.7 L-32.0,-32.5 L-28.0,-33.2 L-24.0,-33.9 L-20.0,-34.4 L-16.0,-34.8 L-12.0,-35.2 L-8.0,-35.4 L-4.0,-35.6 L0.0,-35.6 L4.0,-35.6 L8.0,-35.4 L12.0,-35.2 L16.0,-34.8 L20.0,-34.4 L24.0,-33.9 L28.0,-33.2 L32.0,-32.5 L36.0,-31.7 L40.0,-30.8 L44.0,-29.8 L48.0,-28.7 L52.0,-27.5 L56.0,-26.2 L60.0,-24.8 L64.0,-23.3 L68.0,-21.7 L72.0,-20.0 L76.0,-18.3 L80.0,-16.4 L84.0,-14.4 L88.0,-12.4 L92.0,-10.2 L96.0,-8.0 L100.0,-5.6 L100.0,40.0 L-100.0,40.0 Z"/></clipPath>
<filter id="fa1" x="-20%" y="-20%" width="140%" height="140%"><feMorphology operator="dilate" radius="1.7 0.2"/></filter>
<filter id="fb1" x="-20%" y="-20%" width="140%" height="140%"><feMorphology operator="dilate" radius="0.7 0"/></filter>
<g clip-path="url(#lc1)" font-family="'Liberation Sans',sans-serif" font-weight="bold" font-size="88.7" fill="#f9dada" stroke="#f9dada">
<g filter="url(#fa1)"><text transform="translate(-86.97,24.40) scale(0.5316,1)" stroke-width="1.6">S</text></g>
<g filter="url(#fa1)"><text transform="translate(-51.35,24.40) scale(0.4256,1)" stroke-width="1.6">O</text></g>
<g filter="url(#fb1)"><text transform="translate(-18.81,24.40) scale(0.6077,1)" stroke-width="1.6">L</text></g>
<g filter="url(#fb1)"><text transform="translate(26.81,24.40) scale(-0.6077,1)" stroke-width="1.6">L</text></g>
<g><text transform="translate(25.21,24.40) scale(0.7884,1)" stroke-width="1.6">I</text></g>
<g><text transform="translate(43.98,24.40) scale(0.6428,1)" stroke-width="3.4">M</text></g>
</g>
<text x="-6.2" y="51.9" text-anchor="middle" font-family="'Liberation Sans',sans-serif" font-style="italic" font-size="22.6" fill="#fff" stroke="none" textLength="72" lengthAdjust="spacingAndGlyphs">GROUP</text>
</g>
<g transform="translate(850.6,296.5)" fill="none" stroke="#f9dada" stroke-linecap="round" stroke-linejoin="round">
<path d="M-92.0,-39.9 L-90.0,-40.9 L-88.0,-41.8 L-86.0,-42.8 L-84.0,-43.8 L-82.0,-44.7 L-80.0,-45.6 L-78.0,-46.4 L-76.0,-47.3 L-74.0,-48.1 L-72.0,-48.9 L-70.0,-49.7 L-68.0,-50.5 L-66.0,-51.2 L-64.0,-52.0 L-62.0,-52.7 L-60.0,-53.3 L-58.0,-54.0 L-56.0,-54.6 L-54.0,-55.2 L-52.0,-55.8 L-50.0,-56.4 L-48.0,-56.9 L-46.0,-57.4 L-44.0,-57.9 L-42.0,-58.4 L-40.0,-58.9 L-38.0,-59.3 L-36.0,-59.7 L-34.0,-60.1 L-32.0,-60.5 L-30.0,-60.8 L-28.0,-61.1 L-26.0,-61.4 L-24.0,-61.7 L-22.0,-62.0 L-20.0,-62.2 L-18.0,-62.4 L-16.0,-62.6 L-14.0,-62.8 L-12.0,-62.9 L-10.0,-63.0 L-8.0,-63.1 L-6.0,-63.2 L-4.0,-63.3 L-2.0,-63.3 L0.0,-63.3 L2.0,-63.3 L4.0,-63.3 L6.0,-63.2 L8.0,-63.1 L10.0,-63.0 L12.0,-62.9 L14.0,-62.8 L16.0,-62.6 L18.0,-62.4 L20.0,-62.2 L22.0,-62.0 L24.0,-61.7 L26.0,-61.4 L28.0,-61.1 L30.0,-60.8 L32.0,-60.5 L34.0,-60.1 L36.0,-59.7 L38.0,-59.3 L40.0,-58.9 L42.0,-58.4 L44.0,-57.9 L46.0,-57.4 L48.0,-56.9 L50.0,-56.4 L52.0,-55.8 L54.0,-55.2 L56.0,-54.6 L58.0,-54.0 L60.0,-53.3 L62.0,-52.7 L64.0,-52.0 L66.0,-51.2 L68.0,-50.5 L70.0,-49.7 L72.0,-48.9 L74.0,-48.1 L76.0,-47.3 L78.0,-46.4 L80.0,-45.6 L82.0,-44.7 L84.0,-43.8 L86.0,-42.8 L88.0,-41.8 L90.0,-40.9 L92.0,-39.9 L94.6,-37.2 L96.4,-33.6 L97.4,-29.0 L98.0,-20.0 L98.4,-5.0 L98.6,10.0 L98.6,25.0 L98.5,29.3 L98.2,32.3 L97.7,34.9 L96.9,37.4 L96.0,39.6 L94.9,41.8 L93.5,43.8 L92.0,45.7 L90.2,47.6 L88.3,49.3 L86.1,50.9 L83.8,52.5 L81.2,54.0 L78.5,55.4 L75.5,56.7 L72.4,57.9 L69.0,59.1 L65.5,60.2 L61.8,61.2 L57.9,62.1 L53.7,62.9 L49.4,63.6 L44.8,64.3 L40.0,64.8 L34.9,65.3 L29.5,65.7 L23.7,66.0 L17.4,66.2 L10.2,66.4 L0.0,66.4 L-10.2,66.4 L-17.4,66.2 L-23.7,66.0 L-29.5,65.7 L-34.9,65.3 L-40.0,64.8 L-44.8,64.3 L-49.4,63.6 L-53.7,62.9 L-57.9,62.1 L-61.8,61.2 L-65.5,60.2 L-69.0,59.1 L-72.4,57.9 L-75.5,56.7 L-78.5,55.4 L-81.2,54.0 L-83.8,52.5 L-86.1,50.9 L-88.3,49.3 L-90.2,47.6 L-92.0,45.7 L-93.5,43.8 L-94.9,41.8 L-96.0,39.6 L-96.9,37.4 L-97.7,34.9 L-98.2,32.3 L-98.5,29.3 L-98.6,25.0 L-98.6,10.0 L-98.4,-5.0 L-98.0,-20.0 L-97.4,-29.0 L-96.4,-33.6 L-94.6,-37.2 Z" stroke-width="4.3"/>
<path d="M90.6,-21.0 L91.6,-8.0 L92.0,10.0 L92.0,25.0 L91.4,31.0" stroke-width="2.6"/>
<path d="M-90.6,-21.0 L-91.6,-8.0 L-92.0,10.0 L-92.0,25.0 L-91.4,31.0" stroke-width="2.6"/>
<path d="M-86.0,-27.0 L-84.0,-28.0 L-82.0,-28.9 L-80.0,-29.9 L-78.0,-30.7 L-76.0,-31.6 L-74.0,-32.5 L-72.0,-33.3 L-70.0,-34.1 L-68.0,-34.9 L-66.0,-35.6 L-64.0,-36.3 L-62.0,-37.1 L-60.0,-37.7 L-58.0,-38.4 L-56.0,-39.1 L-54.0,-39.7 L-52.0,-40.3 L-50.0,-40.8 L-48.0,-41.4 L-46.0,-41.9 L-44.0,-42.4 L-42.0,-42.9 L-40.0,-43.4 L-38.0,-43.8 L-36.0,-44.2 L-34.0,-44.6 L-32.0,-45.0 L-30.0,-45.4 L-28.0,-45.7 L-26.0,-46.0 L-24.0,-46.3 L-22.0,-46.5 L-20.0,-46.8 L-18.0,-47.0 L-16.0,-47.2 L-14.0,-47.3 L-12.0,-47.5 L-10.0,-47.6 L-8.0,-47.7 L-6.0,-47.8 L-4.0,-47.9 L-2.0,-47.9 L0.0,-47.9 L2.0,-47.9 L4.0,-47.9 L6.0,-47.8 L8.0,-47.7 L10.0,-47.6 L12.0,-47.5 L14.0,-47.3 L16.0,-47.2 L18.0,-47.0 L20.0,-46.8 L22.0,-46.5 L24.0,-46.3 L26.0,-46.0 L28.0,-45.7 L30.0,-45.4 L32.0,-45.0 L34.0,-44.6 L36.0,-44.2 L38.0,-43.8 L40.0,-43.4 L42.0,-42.9 L44.0,-42.4 L46.0,-41.9 L48.0,-41.4 L50.0,-40.8 L52.0,-40.3 L54.0,-39.7 L56.0,-39.1 L58.0,-38.4 L60.0,-37.7 L62.0,-37.1 L64.0,-36.3 L66.0,-35.6 L68.0,-34.9 L70.0,-34.1 L72.0,-33.3 L74.0,-32.5 L76.0,-31.6 L78.0,-30.7 L80.0,-29.9 L82.0,-28.9 L84.0,-28.0 L86.0,-27.0" stroke-width="12.6"/>
<path d="M93.0,32.6 L92.7,33.7 L92.4,34.8 L92.0,35.8 L91.6,36.8 L91.1,37.8 L90.6,38.7 L90.1,39.7 L89.4,40.6 L88.8,41.4 L88.1,42.3 L87.3,43.1 L86.5,43.9 L85.6,44.7 L84.7,45.5 L83.8,46.2 L82.8,47.0 L81.8,47.7 L80.7,48.4 L79.5,49.1 L78.3,49.7 L77.1,50.4 L75.8,51.0 L74.5,51.6 L73.1,52.2 L71.7,52.7 L70.2,53.3 L68.7,53.8 L67.2,54.3 L65.5,54.8 L63.9,55.3 L62.2,55.8 L60.4,56.2 L58.7,56.6 L56.8,57.0 L54.9,57.4 L53.0,57.8 L51.0,58.1 L48.9,58.5 L46.9,58.8 L44.7,59.1 L42.5,59.3 L40.2,59.6 L37.9,59.8 L35.5,60.0 L33.1,60.2 L30.6,60.4 L28.0,60.6 L25.3,60.7 L22.5,60.9 L19.5,61.0 L16.5,61.0 L13.2,61.1 L9.7,61.2 L5.7,61.2 L0.0,61.2 L-5.7,61.2 L-9.7,61.2 L-13.2,61.1 L-16.5,61.0 L-19.5,61.0 L-22.5,60.9 L-25.3,60.7 L-28.0,60.6 L-30.6,60.4 L-33.1,60.2 L-35.5,60.0 L-37.9,59.8 L-40.2,59.6 L-42.5,59.3 L-44.7,59.1 L-46.9,58.8 L-48.9,58.5 L-51.0,58.1 L-53.0,57.8 L-54.9,57.4 L-56.8,57.0 L-58.7,56.6 L-60.4,56.2 L-62.2,55.8 L-63.9,55.3 L-65.5,54.8 L-67.2,54.3 L-68.7,53.8 L-70.2,53.3 L-71.7,52.7 L-73.1,52.2 L-74.5,51.6 L-75.8,51.0 L-77.1,50.4 L-78.3,49.7 L-79.5,49.1 L-80.7,48.4 L-81.8,47.7 L-82.8,47.0 L-83.8,46.2 L-84.7,45.5 L-85.6,44.7 L-86.5,43.9 L-87.3,43.1 L-88.1,42.3 L-88.8,41.4 L-89.4,40.6 L-90.1,39.7 L-90.6,38.7 L-91.1,37.8 L-91.6,36.8 L-92.0,35.8 L-92.4,34.8 L-92.7,33.7 L-93.0,32.6 Z" fill="#f9dada" stroke-width="1"/>
<clipPath id="lc2"><path d="M-100.0,-5.6 L-96.0,-8.0 L-92.0,-10.2 L-88.0,-12.4 L-84.0,-14.4 L-80.0,-16.4 L-76.0,-18.3 L-72.0,-20.0 L-68.0,-21.7 L-64.0,-23.3 L-60.0,-24.8 L-56.0,-26.2 L-52.0,-27.5 L-48.0,-28.7 L-44.0,-29.8 L-40.0,-30.8 L-36.0,-31.7 L-32.0,-32.5 L-28.0,-33.2 L-24.0,-33.9 L-20.0,-34.4 L-16.0,-34.8 L-12.0,-35.2 L-8.0,-35.4 L-4.0,-35.6 L0.0,-35.6 L4.0,-35.6 L8.0,-35.4 L12.0,-35.2 L16.0,-34.8 L20.0,-34.4 L24.0,-33.9 L28.0,-33.2 L32.0,-32.5 L36.0,-31.7 L40.0,-30.8 L44.0,-29.8 L48.0,-28.7 L52.0,-27.5 L56.0,-26.2 L60.0,-24.8 L64.0,-23.3 L68.0,-21.7 L72.0,-20.0 L76.0,-18.3 L80.0,-16.4 L84.0,-14.4 L88.0,-12.4 L92.0,-10.2 L96.0,-8.0 L100.0,-5.6 L100.0,40.0 L-100.0,40.0 Z"/></clipPath>
<filter id="fa2" x="-20%" y="-20%" width="140%" height="140%"><feMorphology operator="dilate" radius="1.7 0.2"/></filter>
<filter id="fb2" x="-20%" y="-20%" width="140%" height="140%"><feMorphology operator="dilate" radius="0.7 0"/></filter>
<g clip-path="url(#lc2)" font-family="'Liberation Sans',sans-serif" font-weight="bold" font-size="88.7" fill="#f9dada" stroke="#f9dada">
<g filter="url(#fa2)"><text transform="translate(-86.97,24.40) scale(0.5316,1)" stroke-width="1.6">S</text></g>
<g filter="url(#fa2)"><text transform="translate(-51.35,24.40) scale(0.4256,1)" stroke-width="1.6">O</text></g>
<g filter="url(#fb2)"><text transform="translate(-18.81,24.40) scale(0.6077,1)" stroke-width="1.6">L</text></g>
<g filter="url(#fb2)"><text transform="translate(26.81,24.40) scale(-0.6077,1)" stroke-width="1.6">L</text></g>
<g><text transform="translate(25.21,24.40) scale(0.7884,1)" stroke-width="1.6">I</text></g>
<g><text transform="translate(43.98,24.40) scale(0.6428,1)" stroke-width="3.4">M</text></g>
</g>
<text x="-6.2" y="51.9" text-anchor="middle" font-family="'Liberation Sans',sans-serif" font-style="italic" font-size="22.6" fill="#fff" stroke="none" textLength="72" lengthAdjust="spacingAndGlyphs">GROUP</text>
</g>
<g transform="translate(498.4,422.8)" fill="none" stroke="#f9dada" stroke-linecap="round" stroke-linejoin="round">
<path d="M-92.0,-39.9 L-90.0,-40.9 L-88.0,-41.8 L-86.0,-42.8 L-84.0,-43.8 L-82.0,-44.7 L-80.0,-45.6 L-78.0,-46.4 L-76.0,-47.3 L-74.0,-48.1 L-72.0,-48.9 L-70.0,-49.7 L-68.0,-50.5 L-66.0,-51.2 L-64.0,-52.0 L-62.0,-52.7 L-60.0,-53.3 L-58.0,-54.0 L-56.0,-54.6 L-54.0,-55.2 L-52.0,-55.8 L-50.0,-56.4 L-48.0,-56.9 L-46.0,-57.4 L-44.0,-57.9 L-42.0,-58.4 L-40.0,-58.9 L-38.0,-59.3 L-36.0,-59.7 L-34.0,-60.1 L-32.0,-60.5 L-30.0,-60.8 L-28.0,-61.1 L-26.0,-61.4 L-24.0,-61.7 L-22.0,-62.0 L-20.0,-62.2 L-18.0,-62.4 L-16.0,-62.6 L-14.0,-62.8 L-12.0,-62.9 L-10.0,-63.0 L-8.0,-63.1 L-6.0,-63.2 L-4.0,-63.3 L-2.0,-63.3 L0.0,-63.3 L2.0,-63.3 L4.0,-63.3 L6.0,-63.2 L8.0,-63.1 L10.0,-63.0 L12.0,-62.9 L14.0,-62.8 L16.0,-62.6 L18.0,-62.4 L20.0,-62.2 L22.0,-62.0 L24.0,-61.7 L26.0,-61.4 L28.0,-61.1 L30.0,-60.8 L32.0,-60.5 L34.0,-60.1 L36.0,-59.7 L38.0,-59.3 L40.0,-58.9 L42.0,-58.4 L44.0,-57.9 L46.0,-57.4 L48.0,-56.9 L50.0,-56.4 L52.0,-55.8 L54.0,-55.2 L56.0,-54.6 L58.0,-54.0 L60.0,-53.3 L62.0,-52.7 L64.0,-52.0 L66.0,-51.2 L68.0,-50.5 L70.0,-49.7 L72.0,-48.9 L74.0,-48.1 L76.0,-47.3 L78.0,-46.4 L80.0,-45.6 L82.0,-44.7 L84.0,-43.8 L86.0,-42.8 L88.0,-41.8 L90.0,-40.9 L92.0,-39.9 L94.6,-37.2 L96.4,-33.6 L97.4,-29.0 L98.0,-20.0 L98.4,-5.0 L98.6,10.0 L98.6,25.0 L98.5,29.3 L98.2,32.3 L97.7,34.9 L96.9,37.4 L96.0,39.6 L94.9,41.8 L93.5,43.8 L92.0,45.7 L90.2,47.6 L88.3,49.3 L86.1,50.9 L83.8,52.5 L81.2,54.0 L78.5,55.4 L75.5,56.7 L72.4,57.9 L69.0,59.1 L65.5,60.2 L61.8,61.2 L57.9,62.1 L53.7,62.9 L49.4,63.6 L44.8,64.3 L40.0,64.8 L34.9,65.3 L29.5,65.7 L23.7,66.0 L17.4,66.2 L10.2,66.4 L0.0,66.4 L-10.2,66.4 L-17.4,66.2 L-23.7,66.0 L-29.5,65.7 L-34.9,65.3 L-40.0,64.8 L-44.8,64.3 L-49.4,63.6 L-53.7,62.9 L-57.9,62.1 L-61.8,61.2 L-65.5,60.2 L-69.0,59.1 L-72.4,57.9 L-75.5,56.7 L-78.5,55.4 L-81.2,54.0 L-83.8,52.5 L-86.1,50.9 L-88.3,49.3 L-90.2,47.6 L-92.0,45.7 L-93.5,43.8 L-94.9,41.8 L-96.0,39.6 L-96.9,37.4 L-97.7,34.9 L-98.2,32.3 L-98.5,29.3 L-98.6,25.0 L-98.6,10.0 L-98.4,-5.0 L-98.0,-20.0 L-97.4,-29.0 L-96.4,-33.6 L-94.6,-37.2 Z" stroke-width="4.3"/>
<path d="M90.6,-21.0 L91.6,-8.0 L92.0,10.0 L92.0,25.0 L91.4,31.0" stroke-width="2.6"/>
<path d="M-90.6,-21.0 L-91.6,-8.0 L-92.0,10.0 L-92.0,25.0 L-91.4,31.0" stroke-width="2.6"/>
<path d="M-86.0,-27.0 L-84.0,-28.0 L-82.0,-28.9 L-80.0,-29.9 L-78.0,-30.7 L-76.0,-31.6 L-74.0,-32.5 L-72.0,-33.3 L-70.0,-34.1 L-68.0,-34.9 L-66.0,-35.6 L-64.0,-36.3 L-62.0,-37.1 L-60.0,-37.7 L-58.0,-38.4 L-56.0,-39.1 L-54.0,-39.7 L-52.0,-40.3 L-50.0,-40.8 L-48.0,-41.4 L-46.0,-41.9 L-44.0,-42.4 L-42.0,-42.9 L-40.0,-43.4 L-38.0,-43.8 L-36.0,-44.2 L-34.0,-44.6 L-32.0,-45.0 L-30.0,-45.4 L-28.0,-45.7 L-26.0,-46.0 L-24.0,-46.3 L-22.0,-46.5 L-20.0,-46.8 L-18.0,-47.0 L-16.0,-47.2 L-14.0,-47.3 L-12.0,-47.5 L-10.0,-47.6 L-8.0,-47.7 L-6.0,-47.8 L-4.0,-47.9 L-2.0,-47.9 L0.0,-47.9 L2.0,-47.9 L4.0,-47.9 L6.0,-47.8 L8.0,-47.7 L10.0,-47.6 L12.0,-47.5 L14.0,-47.3 L16.0,-47.2 L18.0,-47.0 L20.0,-46.8 L22.0,-46.5 L24.0,-46.3 L26.0,-46.0 L28.0,-45.7 L30.0,-45.4 L32.0,-45.0 L34.0,-44.6 L36.0,-44.2 L38.0,-43.8 L40.0,-43.4 L42.0,-42.9 L44.0,-42.4 L46.0,-41.9 L48.0,-41.4 L50.0,-40.8 L52.0,-40.3 L54.0,-39.7 L56.0,-39.1 L58.0,-38.4 L60.0,-37.7 L62.0,-37.1 L64.0,-36.3 L66.0,-35.6 L68.0,-34.9 L70.0,-34.1 L72.0,-33.3 L74.0,-32.5 L76.0,-31.6 L78.0,-30.7 L80.0,-29.9 L82.0,-28.9 L84.0,-28.0 L86.0,-27.0" stroke-width="12.6"/>
<path d="M93.0,32.6 L92.7,33.7 L92.4,34.8 L92.0,35.8 L91.6,36.8 L91.1,37.8 L90.6,38.7 L90.1,39.7 L89.4,40.6 L88.8,41.4 L88.1,42.3 L87.3,43.1 L86.5,43.9 L85.6,44.7 L84.7,45.5 L83.8,46.2 L82.8,47.0 L81.8,47.7 L80.7,48.4 L79.5,49.1 L78.3,49.7 L77.1,50.4 L75.8,51.0 L74.5,51.6 L73.1,52.2 L71.7,52.7 L70.2,53.3 L68.7,53.8 L67.2,54.3 L65.5,54.8 L63.9,55.3 L62.2,55.8 L60.4,56.2 L58.7,56.6 L56.8,57.0 L54.9,57.4 L53.0,57.8 L51.0,58.1 L48.9,58.5 L46.9,58.8 L44.7,59.1 L42.5,59.3 L40.2,59.6 L37.9,59.8 L35.5,60.0 L33.1,60.2 L30.6,60.4 L28.0,60.6 L25.3,60.7 L22.5,60.9 L19.5,61.0 L16.5,61.0 L13.2,61.1 L9.7,61.2 L5.7,61.2 L0.0,61.2 L-5.7,61.2 L-9.7,61.2 L-13.2,61.1 L-16.5,61.0 L-19.5,61.0 L-22.5,60.9 L-25.3,60.7 L-28.0,60.6 L-30.6,60.4 L-33.1,60.2 L-35.5,60.0 L-37.9,59.8 L-40.2,59.6 L-42.5,59.3 L-44.7,59.1 L-46.9,58.8 L-48.9,58.5 L-51.0,58.1 L-53.0,57.8 L-54.9,57.4 L-56.8,57.0 L-58.7,56.6 L-60.4,56.2 L-62.2,55.8 L-63.9,55.3 L-65.5,54.8 L-67.2,54.3 L-68.7,53.8 L-70.2,53.3 L-71.7,52.7 L-73.1,52.2 L-74.5,51.6 L-75.8,51.0 L-77.1,50.4 L-78.3,49.7 L-79.5,49.1 L-80.7,48.4 L-81.8,47.7 L-82.8,47.0 L-83.8,46.2 L-84.7,45.5 L-85.6,44.7 L-86.5,43.9 L-87.3,43.1 L-88.1,42.3 L-88.8,41.4 L-89.4,40.6 L-90.1,39.7 L-90.6,38.7 L-91.1,37.8 L-91.6,36.8 L-92.0,35.8 L-92.4,34.8 L-92.7,33.7 L-93.0,32.6 Z" fill="#f9dada" stroke-width="1"/>
<clipPath id="lc3"><path d="M-100.0,-5.6 L-96.0,-8.0 L-92.0,-10.2 L-88.0,-12.4 L-84.0,-14.4 L-80.0,-16.4 L-76.0,-18.3 L-72.0,-20.0 L-68.0,-21.7 L-64.0,-23.3 L-60.0,-24.8 L-56.0,-26.2 L-52.0,-27.5 L-48.0,-28.7 L-44.0,-29.8 L-40.0,-30.8 L-36.0,-31.7 L-32.0,-32.5 L-28.0,-33.2 L-24.0,-33.9 L-20.0,-34.4 L-16.0,-34.8 L-12.0,-35.2 L-8.0,-35.4 L-4.0,-35.6 L0.0,-35.6 L4.0,-35.6 L8.0,-35.4 L12.0,-35.2 L16.0,-34.8 L20.0,-34.4 L24.0,-33.9 L28.0,-33.2 L32.0,-32.5 L36.0,-31.7 L40.0,-30.8 L44.0,-29.8 L48.0,-28.7 L52.0,-27.5 L56.0,-26.2 L60.0,-24.8 L64.0,-23.3 L68.0,-21.7 L72.0,-20.0 L76.0,-18.3 L80.0,-16.4 L84.0,-14.4 L88.0,-12.4 L92.0,-10.2 L96.0,-8.0 L100.0,-5.6 L100.0,40.0 L-100.0,40.0 Z"/></clipPath>
<filter id="fa3" x="-20%" y="-20%" width="140%" height="140%"><feMorphology operator="dilate" radius="1.7 0.2"/></filter>
<filter id="fb3" x="-20%" y="-20%" width="140%" height="140%"><feMorphology operator="dilate" radius="0.7 0"/></filter>
<g clip-path="url(#lc3)" font-family="'Liberation Sans',sans-serif" font-weight="bold" font-size="88.7" fill="#f9dada" stroke="#f9dada">
<g filter="url(#fa3)"><text transform="translate(-86.97,24.40) scale(0.5316,1)" stroke-width="1.6">S</text></g>
<g filter="url(#fa3)"><text transform="translate(-51.35,24.40) scale(0.4256,1)" stroke-width="1.6">O</text></g>
<g filter="url(#fb3)"><text transform="translate(-18.81,24.40) scale(0.6077,1)" stroke-width="1.6">L</text></g>
<g filter="url(#fb3)"><text transform="translate(26.81,24.40) scale(-0.6077,1)" stroke-width="1.6">L</text></g>
<g><text transform="translate(25.21,24.40) scale(0.7884,1)" stroke-width="1.6">I</text></g>
<g><text transform="translate(43.98,24.40) scale(0.6428,1)" stroke-width="3.4">M</text></g>
</g>
<text x="-6.2" y="51.9" text-anchor="middle" font-family="'Liberation Sans',sans-serif" font-style="italic" font-size="22.6" fill="#fff" stroke="none" textLength="72" lengthAdjust="spacingAndGlyphs">GROUP</text>
</g>
</g>
</svg></body></html>
